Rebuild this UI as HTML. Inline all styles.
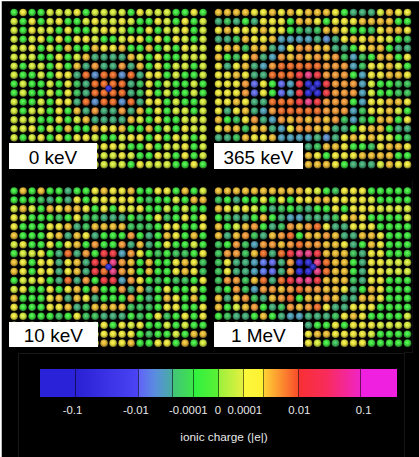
<!DOCTYPE html>
<html><head><meta charset="utf-8"><style>
html,body{margin:0;padding:0;width:419px;height:457px;overflow:hidden;background:#fff}
#bg{position:absolute;left:2px;top:1px;width:417px;height:456px;background:#000}
#edge{position:absolute;left:1px;top:1px;width:1px;height:456px;background:#bdbdbd}
#edge2{position:absolute;left:2px;top:1px;width:417px;height:1px;background:#3a3a3a}
.box{position:absolute;background:#fff}
.lab{position:absolute;color:#000;font-family:"Liberation Sans",sans-serif;font-size:19px;line-height:19px;height:19px;text-align:center;white-space:nowrap}
.tick{position:absolute;top:403.7px;width:60px;text-align:center;color:#e8e8e8;font-family:"Liberation Sans",sans-serif;font-size:11.35px}
.axl{position:absolute;left:150px;width:148px;top:430px;text-align:center;color:#e8e8e8;font-family:"Liberation Sans",sans-serif;font-size:11.8px}
#cbf{position:absolute;left:18px;top:353px;width:385px;height:110px;border-left:1px solid #181818;border-top:1px solid #181818;border-right:1px solid #141414}
#l1{position:absolute;left:404px;top:352px;width:9px;height:1px;background:#141414}
#l2{position:absolute;left:412px;top:180px;width:1px;height:172px;background:#0e0e0e}
</style></head><body>
<div id="bg"></div><div id="edge"></div><div id="edge2"></div>
<div id="cbf"></div><div id="l1"></div><div id="l2"></div>
<svg width="419" height="457" viewBox="0 0 419 457" style="position:absolute;left:0;top:0"><defs><radialGradient id="gG" cx="0.47" cy="0.45" r="0.55" fx="0.45" fy="0.4"><stop offset="0" stop-color="#60ff60"/><stop offset="0.55" stop-color="#3ed83e"/><stop offset="1" stop-color="#227722"/></radialGradient><radialGradient id="gL" cx="0.47" cy="0.45" r="0.55" fx="0.45" fy="0.4"><stop offset="0" stop-color="#f2ff60"/><stop offset="0.55" stop-color="#c8de3e"/><stop offset="1" stop-color="#6e7a22"/></radialGradient><radialGradient id="gY" cx="0.47" cy="0.45" r="0.55" fx="0.45" fy="0.4"><stop offset="0" stop-color="#ffff5e"/><stop offset="0.55" stop-color="#e0d83c"/><stop offset="1" stop-color="#7b7721"/></radialGradient><radialGradient id="gO" cx="0.47" cy="0.45" r="0.55" fx="0.45" fy="0.4"><stop offset="0" stop-color="#ffdb58"/><stop offset="0.55" stop-color="#deb236"/><stop offset="1" stop-color="#7a621e"/></radialGradient><radialGradient id="gT" cx="0.47" cy="0.45" r="0.55" fx="0.45" fy="0.4"><stop offset="0" stop-color="#64ca97"/><stop offset="0.55" stop-color="#42a272"/><stop offset="1" stop-color="#24593f"/></radialGradient><radialGradient id="gU" cx="0.47" cy="0.45" r="0.55" fx="0.45" fy="0.4"><stop offset="0" stop-color="#5edd79"/><stop offset="0.55" stop-color="#3cb456"/><stop offset="1" stop-color="#21632f"/></radialGradient><radialGradient id="gP" cx="0.47" cy="0.45" r="0.55" fx="0.45" fy="0.4"><stop offset="0" stop-color="#ffb95c"/><stop offset="0.55" stop-color="#e4923a"/><stop offset="1" stop-color="#7d5020"/></radialGradient><radialGradient id="gR" cx="0.47" cy="0.45" r="0.55" fx="0.45" fy="0.4"><stop offset="0" stop-color="#ff8f4d"/><stop offset="0.55" stop-color="#e06a2c"/><stop offset="1" stop-color="#7b3a18"/></radialGradient><radialGradient id="gQ" cx="0.47" cy="0.45" r="0.55" fx="0.45" fy="0.4"><stop offset="0" stop-color="#ff5e64"/><stop offset="0.55" stop-color="#e03c42"/><stop offset="1" stop-color="#7b2124"/></radialGradient><radialGradient id="gM" cx="0.47" cy="0.45" r="0.55" fx="0.45" fy="0.4"><stop offset="0" stop-color="#ff62a4"/><stop offset="0.55" stop-color="#d8407e"/><stop offset="1" stop-color="#772345"/></radialGradient><radialGradient id="gB" cx="0.47" cy="0.45" r="0.55" fx="0.45" fy="0.4"><stop offset="0" stop-color="#7cace5"/><stop offset="0.55" stop-color="#5886bc"/><stop offset="1" stop-color="#304a67"/></radialGradient><radialGradient id="gV" cx="0.47" cy="0.45" r="0.55" fx="0.45" fy="0.4"><stop offset="0" stop-color="#808aff"/><stop offset="0.55" stop-color="#5c66d8"/><stop offset="1" stop-color="#333877"/></radialGradient><radialGradient id="gD" cx="0.47" cy="0.45" r="0.55" fx="0.45" fy="0.4"><stop offset="0" stop-color="#4f4fee"/><stop offset="0.55" stop-color="#2e2ec4"/><stop offset="1" stop-color="#19196c"/></radialGradient><radialGradient id="gC" cx="0.47" cy="0.45" r="0.55" fx="0.45" fy="0.4"><stop offset="0" stop-color="#6fbdd4"/><stop offset="0.55" stop-color="#4c96ac"/><stop offset="1" stop-color="#2a525f"/></radialGradient><radialGradient id="gW" cx="0.47" cy="0.45" r="0.55" fx="0.45" fy="0.4"><stop offset="0" stop-color="#8097ff"/><stop offset="0.55" stop-color="#5c72dc"/><stop offset="1" stop-color="#333f79"/></radialGradient><radialGradient id="gE" cx="0.47" cy="0.45" r="0.55" fx="0.45" fy="0.4"><stop offset="0" stop-color="#4b4be1"/><stop offset="0.55" stop-color="#2a2ab8"/><stop offset="1" stop-color="#171765"/></radialGradient><radialGradient id="gK" cx="0.47" cy="0.45" r="0.55" fx="0.45" fy="0.4"><stop offset="0" stop-color="#1f1f1f"/><stop offset="0.55" stop-color="#000000"/><stop offset="1" stop-color="#000000"/></radialGradient></defs><circle cx="14.10" cy="12.50" r="3.8" fill="url(#gG)"/><circle cx="23.10" cy="12.50" r="3.8" fill="url(#gY)"/><circle cx="32.10" cy="12.50" r="3.8" fill="url(#gG)"/><circle cx="41.10" cy="12.50" r="3.8" fill="url(#gG)"/><circle cx="50.10" cy="12.50" r="3.8" fill="url(#gL)"/><circle cx="59.10" cy="12.50" r="3.8" fill="url(#gL)"/><circle cx="68.10" cy="12.50" r="3.8" fill="url(#gL)"/><circle cx="77.10" cy="12.50" r="3.8" fill="url(#gY)"/><circle cx="86.10" cy="12.50" r="3.8" fill="url(#gG)"/><circle cx="95.10" cy="12.50" r="3.8" fill="url(#gL)"/><circle cx="104.10" cy="12.50" r="3.8" fill="url(#gL)"/><circle cx="113.10" cy="12.50" r="3.8" fill="url(#gL)"/><circle cx="122.10" cy="12.50" r="3.8" fill="url(#gL)"/><circle cx="131.10" cy="12.50" r="3.8" fill="url(#gG)"/><circle cx="140.10" cy="12.50" r="3.8" fill="url(#gY)"/><circle cx="149.10" cy="12.50" r="3.8" fill="url(#gL)"/><circle cx="158.10" cy="12.50" r="3.8" fill="url(#gL)"/><circle cx="167.10" cy="12.50" r="3.8" fill="url(#gL)"/><circle cx="176.10" cy="12.50" r="3.8" fill="url(#gG)"/><circle cx="185.10" cy="12.50" r="3.8" fill="url(#gG)"/><circle cx="194.10" cy="12.50" r="3.8" fill="url(#gY)"/><circle cx="203.10" cy="12.50" r="3.8" fill="url(#gG)"/><circle cx="14.10" cy="21.45" r="3.8" fill="url(#gL)"/><circle cx="23.10" cy="21.45" r="3.8" fill="url(#gG)"/><circle cx="32.10" cy="21.45" r="3.8" fill="url(#gY)"/><circle cx="41.10" cy="21.45" r="3.8" fill="url(#gG)"/><circle cx="50.10" cy="21.45" r="3.8" fill="url(#gL)"/><circle cx="59.10" cy="21.45" r="3.8" fill="url(#gY)"/><circle cx="68.10" cy="21.45" r="3.8" fill="url(#gG)"/><circle cx="77.10" cy="21.45" r="3.8" fill="url(#gG)"/><circle cx="86.10" cy="21.45" r="3.8" fill="url(#gL)"/><circle cx="95.10" cy="21.45" r="3.8" fill="url(#gY)"/><circle cx="104.10" cy="21.45" r="3.8" fill="url(#gL)"/><circle cx="113.10" cy="21.45" r="3.8" fill="url(#gL)"/><circle cx="122.10" cy="21.45" r="3.8" fill="url(#gY)"/><circle cx="131.10" cy="21.45" r="3.8" fill="url(#gL)"/><circle cx="140.10" cy="21.45" r="3.8" fill="url(#gG)"/><circle cx="149.10" cy="21.45" r="3.8" fill="url(#gG)"/><circle cx="158.10" cy="21.45" r="3.8" fill="url(#gY)"/><circle cx="167.10" cy="21.45" r="3.8" fill="url(#gL)"/><circle cx="176.10" cy="21.45" r="3.8" fill="url(#gG)"/><circle cx="185.10" cy="21.45" r="3.8" fill="url(#gY)"/><circle cx="194.10" cy="21.45" r="3.8" fill="url(#gG)"/><circle cx="203.10" cy="21.45" r="3.8" fill="url(#gL)"/><circle cx="14.10" cy="30.40" r="3.8" fill="url(#gL)"/><circle cx="23.10" cy="30.40" r="3.8" fill="url(#gG)"/><circle cx="32.10" cy="30.40" r="3.8" fill="url(#gY)"/><circle cx="41.10" cy="30.40" r="3.8" fill="url(#gL)"/><circle cx="50.10" cy="30.40" r="3.8" fill="url(#gL)"/><circle cx="59.10" cy="30.40" r="3.8" fill="url(#gG)"/><circle cx="68.10" cy="30.40" r="3.8" fill="url(#gY)"/><circle cx="77.10" cy="30.40" r="3.8" fill="url(#gG)"/><circle cx="86.10" cy="30.40" r="3.8" fill="url(#gG)"/><circle cx="95.10" cy="30.40" r="3.8" fill="url(#gL)"/><circle cx="104.10" cy="30.40" r="3.8" fill="url(#gY)"/><circle cx="113.10" cy="30.40" r="3.8" fill="url(#gY)"/><circle cx="122.10" cy="30.40" r="3.8" fill="url(#gL)"/><circle cx="131.10" cy="30.40" r="3.8" fill="url(#gG)"/><circle cx="140.10" cy="30.40" r="3.8" fill="url(#gG)"/><circle cx="149.10" cy="30.40" r="3.8" fill="url(#gY)"/><circle cx="158.10" cy="30.40" r="3.8" fill="url(#gG)"/><circle cx="167.10" cy="30.40" r="3.8" fill="url(#gL)"/><circle cx="176.10" cy="30.40" r="3.8" fill="url(#gL)"/><circle cx="185.10" cy="30.40" r="3.8" fill="url(#gY)"/><circle cx="194.10" cy="30.40" r="3.8" fill="url(#gG)"/><circle cx="203.10" cy="30.40" r="3.8" fill="url(#gL)"/><circle cx="14.10" cy="39.35" r="3.8" fill="url(#gL)"/><circle cx="23.10" cy="39.35" r="3.8" fill="url(#gG)"/><circle cx="32.10" cy="39.35" r="3.8" fill="url(#gL)"/><circle cx="41.10" cy="39.35" r="3.8" fill="url(#gY)"/><circle cx="50.10" cy="39.35" r="3.8" fill="url(#gG)"/><circle cx="59.10" cy="39.35" r="3.8" fill="url(#gY)"/><circle cx="68.10" cy="39.35" r="3.8" fill="url(#gG)"/><circle cx="77.10" cy="39.35" r="3.8" fill="url(#gY)"/><circle cx="86.10" cy="39.35" r="3.8" fill="url(#gY)"/><circle cx="95.10" cy="39.35" r="3.8" fill="url(#gL)"/><circle cx="104.10" cy="39.35" r="3.8" fill="url(#gG)"/><circle cx="113.10" cy="39.35" r="3.8" fill="url(#gG)"/><circle cx="122.10" cy="39.35" r="3.8" fill="url(#gL)"/><circle cx="131.10" cy="39.35" r="3.8" fill="url(#gY)"/><circle cx="140.10" cy="39.35" r="3.8" fill="url(#gY)"/><circle cx="149.10" cy="39.35" r="3.8" fill="url(#gG)"/><circle cx="158.10" cy="39.35" r="3.8" fill="url(#gY)"/><circle cx="167.10" cy="39.35" r="3.8" fill="url(#gG)"/><circle cx="176.10" cy="39.35" r="3.8" fill="url(#gY)"/><circle cx="185.10" cy="39.35" r="3.8" fill="url(#gL)"/><circle cx="194.10" cy="39.35" r="3.8" fill="url(#gG)"/><circle cx="203.10" cy="39.35" r="3.8" fill="url(#gL)"/><circle cx="14.10" cy="48.30" r="3.8" fill="url(#gL)"/><circle cx="23.10" cy="48.30" r="3.8" fill="url(#gL)"/><circle cx="32.10" cy="48.30" r="3.8" fill="url(#gY)"/><circle cx="41.10" cy="48.30" r="3.8" fill="url(#gG)"/><circle cx="50.10" cy="48.30" r="3.8" fill="url(#gL)"/><circle cx="59.10" cy="48.30" r="3.8" fill="url(#gG)"/><circle cx="68.10" cy="48.30" r="3.8" fill="url(#gO)"/><circle cx="77.10" cy="48.30" r="3.8" fill="url(#gG)"/><circle cx="86.10" cy="48.30" r="3.8" fill="url(#gG)"/><circle cx="95.10" cy="48.30" r="3.8" fill="url(#gO)"/><circle cx="104.10" cy="48.30" r="3.8" fill="url(#gY)"/><circle cx="113.10" cy="48.30" r="3.8" fill="url(#gY)"/><circle cx="122.10" cy="48.30" r="3.8" fill="url(#gO)"/><circle cx="131.10" cy="48.30" r="3.8" fill="url(#gG)"/><circle cx="140.10" cy="48.30" r="3.8" fill="url(#gG)"/><circle cx="149.10" cy="48.30" r="3.8" fill="url(#gO)"/><circle cx="158.10" cy="48.30" r="3.8" fill="url(#gG)"/><circle cx="167.10" cy="48.30" r="3.8" fill="url(#gL)"/><circle cx="176.10" cy="48.30" r="3.8" fill="url(#gG)"/><circle cx="185.10" cy="48.30" r="3.8" fill="url(#gY)"/><circle cx="194.10" cy="48.30" r="3.8" fill="url(#gL)"/><circle cx="203.10" cy="48.30" r="3.8" fill="url(#gL)"/><circle cx="14.10" cy="57.25" r="3.8" fill="url(#gL)"/><circle cx="23.10" cy="57.25" r="3.8" fill="url(#gL)"/><circle cx="32.10" cy="57.25" r="3.8" fill="url(#gL)"/><circle cx="41.10" cy="57.25" r="3.8" fill="url(#gG)"/><circle cx="50.10" cy="57.25" r="3.8" fill="url(#gG)"/><circle cx="59.10" cy="57.25" r="3.8" fill="url(#gY)"/><circle cx="68.10" cy="57.25" r="3.8" fill="url(#gG)"/><circle cx="77.10" cy="57.25" r="3.8" fill="url(#gL)"/><circle cx="86.10" cy="57.25" r="3.8" fill="url(#gO)"/><circle cx="95.10" cy="57.25" r="3.8" fill="url(#gT)"/><circle cx="104.10" cy="57.25" r="3.8" fill="url(#gT)"/><circle cx="113.10" cy="57.25" r="3.8" fill="url(#gT)"/><circle cx="122.10" cy="57.25" r="3.8" fill="url(#gT)"/><circle cx="131.10" cy="57.25" r="3.8" fill="url(#gO)"/><circle cx="140.10" cy="57.25" r="3.8" fill="url(#gL)"/><circle cx="149.10" cy="57.25" r="3.8" fill="url(#gG)"/><circle cx="158.10" cy="57.25" r="3.8" fill="url(#gY)"/><circle cx="167.10" cy="57.25" r="3.8" fill="url(#gG)"/><circle cx="176.10" cy="57.25" r="3.8" fill="url(#gG)"/><circle cx="185.10" cy="57.25" r="3.8" fill="url(#gL)"/><circle cx="194.10" cy="57.25" r="3.8" fill="url(#gL)"/><circle cx="203.10" cy="57.25" r="3.8" fill="url(#gL)"/><circle cx="14.10" cy="66.20" r="3.8" fill="url(#gL)"/><circle cx="23.10" cy="66.20" r="3.8" fill="url(#gG)"/><circle cx="32.10" cy="66.20" r="3.8" fill="url(#gL)"/><circle cx="41.10" cy="66.20" r="3.8" fill="url(#gL)"/><circle cx="50.10" cy="66.20" r="3.8" fill="url(#gG)"/><circle cx="59.10" cy="66.20" r="3.8" fill="url(#gY)"/><circle cx="68.10" cy="66.20" r="3.8" fill="url(#gG)"/><circle cx="77.10" cy="66.20" r="3.8" fill="url(#gO)"/><circle cx="86.10" cy="66.20" r="3.8" fill="url(#gT)"/><circle cx="95.10" cy="66.20" r="3.8" fill="url(#gP)"/><circle cx="104.10" cy="66.20" r="3.8" fill="url(#gT)"/><circle cx="113.10" cy="66.20" r="3.8" fill="url(#gT)"/><circle cx="122.10" cy="66.20" r="3.8" fill="url(#gP)"/><circle cx="131.10" cy="66.20" r="3.8" fill="url(#gT)"/><circle cx="140.10" cy="66.20" r="3.8" fill="url(#gO)"/><circle cx="149.10" cy="66.20" r="3.8" fill="url(#gG)"/><circle cx="158.10" cy="66.20" r="3.8" fill="url(#gY)"/><circle cx="167.10" cy="66.20" r="3.8" fill="url(#gG)"/><circle cx="176.10" cy="66.20" r="3.8" fill="url(#gL)"/><circle cx="185.10" cy="66.20" r="3.8" fill="url(#gL)"/><circle cx="194.10" cy="66.20" r="3.8" fill="url(#gG)"/><circle cx="203.10" cy="66.20" r="3.8" fill="url(#gL)"/><circle cx="14.10" cy="75.15" r="3.8" fill="url(#gL)"/><circle cx="23.10" cy="75.15" r="3.8" fill="url(#gG)"/><circle cx="32.10" cy="75.15" r="3.8" fill="url(#gG)"/><circle cx="41.10" cy="75.15" r="3.8" fill="url(#gL)"/><circle cx="50.10" cy="75.15" r="3.8" fill="url(#gG)"/><circle cx="59.10" cy="75.15" r="3.8" fill="url(#gY)"/><circle cx="68.10" cy="75.15" r="3.8" fill="url(#gY)"/><circle cx="77.10" cy="75.15" r="3.8" fill="url(#gT)"/><circle cx="86.10" cy="75.15" r="3.8" fill="url(#gR)"/><circle cx="95.10" cy="75.15" r="3.8" fill="url(#gB)"/><circle cx="104.10" cy="75.15" r="3.8" fill="url(#gR)"/><circle cx="113.10" cy="75.15" r="3.8" fill="url(#gR)"/><circle cx="122.10" cy="75.15" r="3.8" fill="url(#gB)"/><circle cx="131.10" cy="75.15" r="3.8" fill="url(#gR)"/><circle cx="140.10" cy="75.15" r="3.8" fill="url(#gT)"/><circle cx="149.10" cy="75.15" r="3.8" fill="url(#gY)"/><circle cx="158.10" cy="75.15" r="3.8" fill="url(#gY)"/><circle cx="167.10" cy="75.15" r="3.8" fill="url(#gG)"/><circle cx="176.10" cy="75.15" r="3.8" fill="url(#gL)"/><circle cx="185.10" cy="75.15" r="3.8" fill="url(#gG)"/><circle cx="194.10" cy="75.15" r="3.8" fill="url(#gG)"/><circle cx="203.10" cy="75.15" r="3.8" fill="url(#gL)"/><circle cx="14.10" cy="84.10" r="3.8" fill="url(#gG)"/><circle cx="23.10" cy="84.10" r="3.8" fill="url(#gL)"/><circle cx="32.10" cy="84.10" r="3.8" fill="url(#gG)"/><circle cx="41.10" cy="84.10" r="3.8" fill="url(#gG)"/><circle cx="50.10" cy="84.10" r="3.8" fill="url(#gL)"/><circle cx="59.10" cy="84.10" r="3.8" fill="url(#gG)"/><circle cx="68.10" cy="84.10" r="3.8" fill="url(#gY)"/><circle cx="77.10" cy="84.10" r="3.8" fill="url(#gU)"/><circle cx="86.10" cy="84.10" r="3.8" fill="url(#gT)"/><circle cx="95.10" cy="84.10" r="3.8" fill="url(#gR)"/><circle cx="104.10" cy="84.10" r="3.8" fill="url(#gR)"/><circle cx="113.10" cy="84.10" r="3.8" fill="url(#gR)"/><circle cx="122.10" cy="84.10" r="3.8" fill="url(#gR)"/><circle cx="131.10" cy="84.10" r="3.8" fill="url(#gT)"/><circle cx="140.10" cy="84.10" r="3.8" fill="url(#gU)"/><circle cx="149.10" cy="84.10" r="3.8" fill="url(#gY)"/><circle cx="158.10" cy="84.10" r="3.8" fill="url(#gG)"/><circle cx="167.10" cy="84.10" r="3.8" fill="url(#gL)"/><circle cx="176.10" cy="84.10" r="3.8" fill="url(#gG)"/><circle cx="185.10" cy="84.10" r="3.8" fill="url(#gG)"/><circle cx="194.10" cy="84.10" r="3.8" fill="url(#gL)"/><circle cx="203.10" cy="84.10" r="3.8" fill="url(#gG)"/><circle cx="14.10" cy="93.05" r="3.8" fill="url(#gG)"/><circle cx="23.10" cy="93.05" r="3.8" fill="url(#gL)"/><circle cx="32.10" cy="93.05" r="3.8" fill="url(#gG)"/><circle cx="41.10" cy="93.05" r="3.8" fill="url(#gG)"/><circle cx="50.10" cy="93.05" r="3.8" fill="url(#gL)"/><circle cx="59.10" cy="93.05" r="3.8" fill="url(#gG)"/><circle cx="68.10" cy="93.05" r="3.8" fill="url(#gY)"/><circle cx="77.10" cy="93.05" r="3.8" fill="url(#gU)"/><circle cx="86.10" cy="93.05" r="3.8" fill="url(#gT)"/><circle cx="95.10" cy="93.05" r="3.8" fill="url(#gR)"/><circle cx="104.10" cy="93.05" r="3.8" fill="url(#gR)"/><circle cx="113.10" cy="93.05" r="3.8" fill="url(#gR)"/><circle cx="122.10" cy="93.05" r="3.8" fill="url(#gR)"/><circle cx="131.10" cy="93.05" r="3.8" fill="url(#gT)"/><circle cx="140.10" cy="93.05" r="3.8" fill="url(#gU)"/><circle cx="149.10" cy="93.05" r="3.8" fill="url(#gY)"/><circle cx="158.10" cy="93.05" r="3.8" fill="url(#gG)"/><circle cx="167.10" cy="93.05" r="3.8" fill="url(#gL)"/><circle cx="176.10" cy="93.05" r="3.8" fill="url(#gG)"/><circle cx="185.10" cy="93.05" r="3.8" fill="url(#gG)"/><circle cx="194.10" cy="93.05" r="3.8" fill="url(#gL)"/><circle cx="203.10" cy="93.05" r="3.8" fill="url(#gG)"/><circle cx="14.10" cy="102.00" r="3.8" fill="url(#gL)"/><circle cx="23.10" cy="102.00" r="3.8" fill="url(#gG)"/><circle cx="32.10" cy="102.00" r="3.8" fill="url(#gG)"/><circle cx="41.10" cy="102.00" r="3.8" fill="url(#gL)"/><circle cx="50.10" cy="102.00" r="3.8" fill="url(#gG)"/><circle cx="59.10" cy="102.00" r="3.8" fill="url(#gY)"/><circle cx="68.10" cy="102.00" r="3.8" fill="url(#gY)"/><circle cx="77.10" cy="102.00" r="3.8" fill="url(#gT)"/><circle cx="86.10" cy="102.00" r="3.8" fill="url(#gR)"/><circle cx="95.10" cy="102.00" r="3.8" fill="url(#gB)"/><circle cx="104.10" cy="102.00" r="3.8" fill="url(#gR)"/><circle cx="113.10" cy="102.00" r="3.8" fill="url(#gR)"/><circle cx="122.10" cy="102.00" r="3.8" fill="url(#gB)"/><circle cx="131.10" cy="102.00" r="3.8" fill="url(#gR)"/><circle cx="140.10" cy="102.00" r="3.8" fill="url(#gT)"/><circle cx="149.10" cy="102.00" r="3.8" fill="url(#gY)"/><circle cx="158.10" cy="102.00" r="3.8" fill="url(#gY)"/><circle cx="167.10" cy="102.00" r="3.8" fill="url(#gG)"/><circle cx="176.10" cy="102.00" r="3.8" fill="url(#gL)"/><circle cx="185.10" cy="102.00" r="3.8" fill="url(#gG)"/><circle cx="194.10" cy="102.00" r="3.8" fill="url(#gG)"/><circle cx="203.10" cy="102.00" r="3.8" fill="url(#gL)"/><circle cx="14.10" cy="110.95" r="3.8" fill="url(#gL)"/><circle cx="23.10" cy="110.95" r="3.8" fill="url(#gG)"/><circle cx="32.10" cy="110.95" r="3.8" fill="url(#gL)"/><circle cx="41.10" cy="110.95" r="3.8" fill="url(#gL)"/><circle cx="50.10" cy="110.95" r="3.8" fill="url(#gG)"/><circle cx="59.10" cy="110.95" r="3.8" fill="url(#gY)"/><circle cx="68.10" cy="110.95" r="3.8" fill="url(#gG)"/><circle cx="77.10" cy="110.95" r="3.8" fill="url(#gO)"/><circle cx="86.10" cy="110.95" r="3.8" fill="url(#gT)"/><circle cx="95.10" cy="110.95" r="3.8" fill="url(#gP)"/><circle cx="104.10" cy="110.95" r="3.8" fill="url(#gT)"/><circle cx="113.10" cy="110.95" r="3.8" fill="url(#gT)"/><circle cx="122.10" cy="110.95" r="3.8" fill="url(#gP)"/><circle cx="131.10" cy="110.95" r="3.8" fill="url(#gT)"/><circle cx="140.10" cy="110.95" r="3.8" fill="url(#gO)"/><circle cx="149.10" cy="110.95" r="3.8" fill="url(#gG)"/><circle cx="158.10" cy="110.95" r="3.8" fill="url(#gY)"/><circle cx="167.10" cy="110.95" r="3.8" fill="url(#gG)"/><circle cx="176.10" cy="110.95" r="3.8" fill="url(#gL)"/><circle cx="185.10" cy="110.95" r="3.8" fill="url(#gL)"/><circle cx="194.10" cy="110.95" r="3.8" fill="url(#gG)"/><circle cx="203.10" cy="110.95" r="3.8" fill="url(#gL)"/><circle cx="14.10" cy="119.90" r="3.8" fill="url(#gL)"/><circle cx="23.10" cy="119.90" r="3.8" fill="url(#gL)"/><circle cx="32.10" cy="119.90" r="3.8" fill="url(#gL)"/><circle cx="41.10" cy="119.90" r="3.8" fill="url(#gG)"/><circle cx="50.10" cy="119.90" r="3.8" fill="url(#gG)"/><circle cx="59.10" cy="119.90" r="3.8" fill="url(#gY)"/><circle cx="68.10" cy="119.90" r="3.8" fill="url(#gG)"/><circle cx="77.10" cy="119.90" r="3.8" fill="url(#gL)"/><circle cx="86.10" cy="119.90" r="3.8" fill="url(#gO)"/><circle cx="95.10" cy="119.90" r="3.8" fill="url(#gT)"/><circle cx="104.10" cy="119.90" r="3.8" fill="url(#gT)"/><circle cx="113.10" cy="119.90" r="3.8" fill="url(#gT)"/><circle cx="122.10" cy="119.90" r="3.8" fill="url(#gT)"/><circle cx="131.10" cy="119.90" r="3.8" fill="url(#gO)"/><circle cx="140.10" cy="119.90" r="3.8" fill="url(#gL)"/><circle cx="149.10" cy="119.90" r="3.8" fill="url(#gG)"/><circle cx="158.10" cy="119.90" r="3.8" fill="url(#gY)"/><circle cx="167.10" cy="119.90" r="3.8" fill="url(#gG)"/><circle cx="176.10" cy="119.90" r="3.8" fill="url(#gG)"/><circle cx="185.10" cy="119.90" r="3.8" fill="url(#gL)"/><circle cx="194.10" cy="119.90" r="3.8" fill="url(#gL)"/><circle cx="203.10" cy="119.90" r="3.8" fill="url(#gL)"/><circle cx="14.10" cy="128.85" r="3.8" fill="url(#gL)"/><circle cx="23.10" cy="128.85" r="3.8" fill="url(#gL)"/><circle cx="32.10" cy="128.85" r="3.8" fill="url(#gY)"/><circle cx="41.10" cy="128.85" r="3.8" fill="url(#gG)"/><circle cx="50.10" cy="128.85" r="3.8" fill="url(#gL)"/><circle cx="59.10" cy="128.85" r="3.8" fill="url(#gG)"/><circle cx="68.10" cy="128.85" r="3.8" fill="url(#gO)"/><circle cx="77.10" cy="128.85" r="3.8" fill="url(#gG)"/><circle cx="86.10" cy="128.85" r="3.8" fill="url(#gG)"/><circle cx="95.10" cy="128.85" r="3.8" fill="url(#gO)"/><circle cx="104.10" cy="128.85" r="3.8" fill="url(#gY)"/><circle cx="113.10" cy="128.85" r="3.8" fill="url(#gY)"/><circle cx="122.10" cy="128.85" r="3.8" fill="url(#gO)"/><circle cx="131.10" cy="128.85" r="3.8" fill="url(#gG)"/><circle cx="140.10" cy="128.85" r="3.8" fill="url(#gG)"/><circle cx="149.10" cy="128.85" r="3.8" fill="url(#gO)"/><circle cx="158.10" cy="128.85" r="3.8" fill="url(#gG)"/><circle cx="167.10" cy="128.85" r="3.8" fill="url(#gL)"/><circle cx="176.10" cy="128.85" r="3.8" fill="url(#gG)"/><circle cx="185.10" cy="128.85" r="3.8" fill="url(#gY)"/><circle cx="194.10" cy="128.85" r="3.8" fill="url(#gL)"/><circle cx="203.10" cy="128.85" r="3.8" fill="url(#gL)"/><circle cx="14.10" cy="137.80" r="3.8" fill="url(#gL)"/><circle cx="23.10" cy="137.80" r="3.8" fill="url(#gG)"/><circle cx="32.10" cy="137.80" r="3.8" fill="url(#gL)"/><circle cx="41.10" cy="137.80" r="3.8" fill="url(#gY)"/><circle cx="50.10" cy="137.80" r="3.8" fill="url(#gG)"/><circle cx="59.10" cy="137.80" r="3.8" fill="url(#gY)"/><circle cx="68.10" cy="137.80" r="3.8" fill="url(#gG)"/><circle cx="77.10" cy="137.80" r="3.8" fill="url(#gY)"/><circle cx="86.10" cy="137.80" r="3.8" fill="url(#gY)"/><circle cx="95.10" cy="137.80" r="3.8" fill="url(#gL)"/><circle cx="104.10" cy="137.80" r="3.8" fill="url(#gG)"/><circle cx="113.10" cy="137.80" r="3.8" fill="url(#gG)"/><circle cx="122.10" cy="137.80" r="3.8" fill="url(#gL)"/><circle cx="131.10" cy="137.80" r="3.8" fill="url(#gY)"/><circle cx="140.10" cy="137.80" r="3.8" fill="url(#gY)"/><circle cx="149.10" cy="137.80" r="3.8" fill="url(#gG)"/><circle cx="158.10" cy="137.80" r="3.8" fill="url(#gY)"/><circle cx="167.10" cy="137.80" r="3.8" fill="url(#gG)"/><circle cx="176.10" cy="137.80" r="3.8" fill="url(#gY)"/><circle cx="185.10" cy="137.80" r="3.8" fill="url(#gL)"/><circle cx="194.10" cy="137.80" r="3.8" fill="url(#gG)"/><circle cx="203.10" cy="137.80" r="3.8" fill="url(#gL)"/><circle cx="14.10" cy="146.75" r="3.8" fill="url(#gL)"/><circle cx="23.10" cy="146.75" r="3.8" fill="url(#gG)"/><circle cx="32.10" cy="146.75" r="3.8" fill="url(#gY)"/><circle cx="41.10" cy="146.75" r="3.8" fill="url(#gL)"/><circle cx="50.10" cy="146.75" r="3.8" fill="url(#gL)"/><circle cx="59.10" cy="146.75" r="3.8" fill="url(#gG)"/><circle cx="68.10" cy="146.75" r="3.8" fill="url(#gY)"/><circle cx="77.10" cy="146.75" r="3.8" fill="url(#gG)"/><circle cx="86.10" cy="146.75" r="3.8" fill="url(#gG)"/><circle cx="95.10" cy="146.75" r="3.8" fill="url(#gL)"/><circle cx="104.10" cy="146.75" r="3.8" fill="url(#gY)"/><circle cx="113.10" cy="146.75" r="3.8" fill="url(#gY)"/><circle cx="122.10" cy="146.75" r="3.8" fill="url(#gL)"/><circle cx="131.10" cy="146.75" r="3.8" fill="url(#gG)"/><circle cx="140.10" cy="146.75" r="3.8" fill="url(#gG)"/><circle cx="149.10" cy="146.75" r="3.8" fill="url(#gY)"/><circle cx="158.10" cy="146.75" r="3.8" fill="url(#gG)"/><circle cx="167.10" cy="146.75" r="3.8" fill="url(#gL)"/><circle cx="176.10" cy="146.75" r="3.8" fill="url(#gL)"/><circle cx="185.10" cy="146.75" r="3.8" fill="url(#gY)"/><circle cx="194.10" cy="146.75" r="3.8" fill="url(#gG)"/><circle cx="203.10" cy="146.75" r="3.8" fill="url(#gL)"/><circle cx="14.10" cy="155.70" r="3.8" fill="url(#gL)"/><circle cx="23.10" cy="155.70" r="3.8" fill="url(#gG)"/><circle cx="32.10" cy="155.70" r="3.8" fill="url(#gY)"/><circle cx="41.10" cy="155.70" r="3.8" fill="url(#gG)"/><circle cx="50.10" cy="155.70" r="3.8" fill="url(#gL)"/><circle cx="59.10" cy="155.70" r="3.8" fill="url(#gY)"/><circle cx="68.10" cy="155.70" r="3.8" fill="url(#gG)"/><circle cx="77.10" cy="155.70" r="3.8" fill="url(#gG)"/><circle cx="86.10" cy="155.70" r="3.8" fill="url(#gL)"/><circle cx="95.10" cy="155.70" r="3.8" fill="url(#gY)"/><circle cx="104.10" cy="155.70" r="3.8" fill="url(#gL)"/><circle cx="113.10" cy="155.70" r="3.8" fill="url(#gL)"/><circle cx="122.10" cy="155.70" r="3.8" fill="url(#gY)"/><circle cx="131.10" cy="155.70" r="3.8" fill="url(#gL)"/><circle cx="140.10" cy="155.70" r="3.8" fill="url(#gG)"/><circle cx="149.10" cy="155.70" r="3.8" fill="url(#gG)"/><circle cx="158.10" cy="155.70" r="3.8" fill="url(#gY)"/><circle cx="167.10" cy="155.70" r="3.8" fill="url(#gL)"/><circle cx="176.10" cy="155.70" r="3.8" fill="url(#gG)"/><circle cx="185.10" cy="155.70" r="3.8" fill="url(#gY)"/><circle cx="194.10" cy="155.70" r="3.8" fill="url(#gG)"/><circle cx="203.10" cy="155.70" r="3.8" fill="url(#gL)"/><circle cx="14.10" cy="164.65" r="3.8" fill="url(#gG)"/><circle cx="23.10" cy="164.65" r="3.8" fill="url(#gY)"/><circle cx="32.10" cy="164.65" r="3.8" fill="url(#gG)"/><circle cx="41.10" cy="164.65" r="3.8" fill="url(#gG)"/><circle cx="50.10" cy="164.65" r="3.8" fill="url(#gL)"/><circle cx="59.10" cy="164.65" r="3.8" fill="url(#gL)"/><circle cx="68.10" cy="164.65" r="3.8" fill="url(#gL)"/><circle cx="77.10" cy="164.65" r="3.8" fill="url(#gY)"/><circle cx="86.10" cy="164.65" r="3.8" fill="url(#gG)"/><circle cx="95.10" cy="164.65" r="3.8" fill="url(#gL)"/><circle cx="104.10" cy="164.65" r="3.8" fill="url(#gL)"/><circle cx="113.10" cy="164.65" r="3.8" fill="url(#gL)"/><circle cx="122.10" cy="164.65" r="3.8" fill="url(#gL)"/><circle cx="131.10" cy="164.65" r="3.8" fill="url(#gG)"/><circle cx="140.10" cy="164.65" r="3.8" fill="url(#gY)"/><circle cx="149.10" cy="164.65" r="3.8" fill="url(#gL)"/><circle cx="158.10" cy="164.65" r="3.8" fill="url(#gL)"/><circle cx="167.10" cy="164.65" r="3.8" fill="url(#gL)"/><circle cx="176.10" cy="164.65" r="3.8" fill="url(#gG)"/><circle cx="185.10" cy="164.65" r="3.8" fill="url(#gG)"/><circle cx="194.10" cy="164.65" r="3.8" fill="url(#gY)"/><circle cx="203.10" cy="164.65" r="3.8" fill="url(#gG)"/><circle cx="108.60" cy="88.57" r="3.4" fill="url(#gD)"/><circle cx="218.50" cy="12.50" r="3.8" fill="url(#gO)"/><circle cx="227.50" cy="12.50" r="3.8" fill="url(#gO)"/><circle cx="236.50" cy="12.50" r="3.8" fill="url(#gO)"/><circle cx="245.50" cy="12.50" r="3.8" fill="url(#gO)"/><circle cx="254.50" cy="12.50" r="3.8" fill="url(#gY)"/><circle cx="263.50" cy="12.50" r="3.8" fill="url(#gY)"/><circle cx="272.50" cy="12.50" r="3.8" fill="url(#gO)"/><circle cx="281.50" cy="12.50" r="3.8" fill="url(#gY)"/><circle cx="290.50" cy="12.50" r="3.8" fill="url(#gO)"/><circle cx="299.50" cy="12.50" r="3.8" fill="url(#gY)"/><circle cx="308.50" cy="12.50" r="3.8" fill="url(#gO)"/><circle cx="317.50" cy="12.50" r="3.8" fill="url(#gO)"/><circle cx="326.50" cy="12.50" r="3.8" fill="url(#gO)"/><circle cx="335.50" cy="12.50" r="3.8" fill="url(#gY)"/><circle cx="344.50" cy="12.50" r="3.8" fill="url(#gG)"/><circle cx="353.50" cy="12.50" r="3.8" fill="url(#gT)"/><circle cx="362.50" cy="12.50" r="3.8" fill="url(#gT)"/><circle cx="371.50" cy="12.50" r="3.8" fill="url(#gT)"/><circle cx="380.50" cy="12.50" r="3.8" fill="url(#gL)"/><circle cx="389.50" cy="12.50" r="3.8" fill="url(#gO)"/><circle cx="398.50" cy="12.50" r="3.8" fill="url(#gY)"/><circle cx="407.50" cy="12.50" r="3.8" fill="url(#gY)"/><circle cx="218.50" cy="21.45" r="3.8" fill="url(#gT)"/><circle cx="227.50" cy="21.45" r="3.8" fill="url(#gU)"/><circle cx="236.50" cy="21.45" r="3.8" fill="url(#gT)"/><circle cx="245.50" cy="21.45" r="3.8" fill="url(#gG)"/><circle cx="254.50" cy="21.45" r="3.8" fill="url(#gT)"/><circle cx="263.50" cy="21.45" r="3.8" fill="url(#gY)"/><circle cx="272.50" cy="21.45" r="3.8" fill="url(#gY)"/><circle cx="281.50" cy="21.45" r="3.8" fill="url(#gY)"/><circle cx="290.50" cy="21.45" r="3.8" fill="url(#gG)"/><circle cx="299.50" cy="21.45" r="3.8" fill="url(#gO)"/><circle cx="308.50" cy="21.45" r="3.8" fill="url(#gO)"/><circle cx="317.50" cy="21.45" r="3.8" fill="url(#gY)"/><circle cx="326.50" cy="21.45" r="3.8" fill="url(#gG)"/><circle cx="335.50" cy="21.45" r="3.8" fill="url(#gY)"/><circle cx="344.50" cy="21.45" r="3.8" fill="url(#gY)"/><circle cx="353.50" cy="21.45" r="3.8" fill="url(#gY)"/><circle cx="362.50" cy="21.45" r="3.8" fill="url(#gO)"/><circle cx="371.50" cy="21.45" r="3.8" fill="url(#gO)"/><circle cx="380.50" cy="21.45" r="3.8" fill="url(#gO)"/><circle cx="389.50" cy="21.45" r="3.8" fill="url(#gO)"/><circle cx="398.50" cy="21.45" r="3.8" fill="url(#gG)"/><circle cx="407.50" cy="21.45" r="3.8" fill="url(#gG)"/><circle cx="218.50" cy="30.40" r="3.8" fill="url(#gY)"/><circle cx="227.50" cy="30.40" r="3.8" fill="url(#gO)"/><circle cx="236.50" cy="30.40" r="3.8" fill="url(#gY)"/><circle cx="245.50" cy="30.40" r="3.8" fill="url(#gY)"/><circle cx="254.50" cy="30.40" r="3.8" fill="url(#gY)"/><circle cx="263.50" cy="30.40" r="3.8" fill="url(#gO)"/><circle cx="272.50" cy="30.40" r="3.8" fill="url(#gY)"/><circle cx="281.50" cy="30.40" r="3.8" fill="url(#gY)"/><circle cx="290.50" cy="30.40" r="3.8" fill="url(#gG)"/><circle cx="299.50" cy="30.40" r="3.8" fill="url(#gU)"/><circle cx="308.50" cy="30.40" r="3.8" fill="url(#gT)"/><circle cx="317.50" cy="30.40" r="3.8" fill="url(#gU)"/><circle cx="326.50" cy="30.40" r="3.8" fill="url(#gO)"/><circle cx="335.50" cy="30.40" r="3.8" fill="url(#gO)"/><circle cx="344.50" cy="30.40" r="3.8" fill="url(#gY)"/><circle cx="353.50" cy="30.40" r="3.8" fill="url(#gG)"/><circle cx="362.50" cy="30.40" r="3.8" fill="url(#gG)"/><circle cx="371.50" cy="30.40" r="3.8" fill="url(#gU)"/><circle cx="380.50" cy="30.40" r="3.8" fill="url(#gY)"/><circle cx="389.50" cy="30.40" r="3.8" fill="url(#gO)"/><circle cx="398.50" cy="30.40" r="3.8" fill="url(#gO)"/><circle cx="407.50" cy="30.40" r="3.8" fill="url(#gY)"/><circle cx="218.50" cy="39.35" r="3.8" fill="url(#gT)"/><circle cx="227.50" cy="39.35" r="3.8" fill="url(#gT)"/><circle cx="236.50" cy="39.35" r="3.8" fill="url(#gU)"/><circle cx="245.50" cy="39.35" r="3.8" fill="url(#gO)"/><circle cx="254.50" cy="39.35" r="3.8" fill="url(#gY)"/><circle cx="263.50" cy="39.35" r="3.8" fill="url(#gY)"/><circle cx="272.50" cy="39.35" r="3.8" fill="url(#gO)"/><circle cx="281.50" cy="39.35" r="3.8" fill="url(#gC)"/><circle cx="290.50" cy="39.35" r="3.8" fill="url(#gC)"/><circle cx="299.50" cy="39.35" r="3.8" fill="url(#gC)"/><circle cx="308.50" cy="39.35" r="3.8" fill="url(#gC)"/><circle cx="317.50" cy="39.35" r="3.8" fill="url(#gT)"/><circle cx="326.50" cy="39.35" r="3.8" fill="url(#gB)"/><circle cx="335.50" cy="39.35" r="3.8" fill="url(#gT)"/><circle cx="344.50" cy="39.35" r="3.8" fill="url(#gY)"/><circle cx="353.50" cy="39.35" r="3.8" fill="url(#gO)"/><circle cx="362.50" cy="39.35" r="3.8" fill="url(#gY)"/><circle cx="371.50" cy="39.35" r="3.8" fill="url(#gO)"/><circle cx="380.50" cy="39.35" r="3.8" fill="url(#gY)"/><circle cx="389.50" cy="39.35" r="3.8" fill="url(#gL)"/><circle cx="398.50" cy="39.35" r="3.8" fill="url(#gG)"/><circle cx="407.50" cy="39.35" r="3.8" fill="url(#gU)"/><circle cx="218.50" cy="48.30" r="3.8" fill="url(#gY)"/><circle cx="227.50" cy="48.30" r="3.8" fill="url(#gO)"/><circle cx="236.50" cy="48.30" r="3.8" fill="url(#gO)"/><circle cx="245.50" cy="48.30" r="3.8" fill="url(#gU)"/><circle cx="254.50" cy="48.30" r="3.8" fill="url(#gO)"/><circle cx="263.50" cy="48.30" r="3.8" fill="url(#gO)"/><circle cx="272.50" cy="48.30" r="3.8" fill="url(#gT)"/><circle cx="281.50" cy="48.30" r="3.8" fill="url(#gC)"/><circle cx="290.50" cy="48.30" r="3.8" fill="url(#gY)"/><circle cx="299.50" cy="48.30" r="3.8" fill="url(#gP)"/><circle cx="308.50" cy="48.30" r="3.8" fill="url(#gP)"/><circle cx="317.50" cy="48.30" r="3.8" fill="url(#gO)"/><circle cx="326.50" cy="48.30" r="3.8" fill="url(#gO)"/><circle cx="335.50" cy="48.30" r="3.8" fill="url(#gT)"/><circle cx="344.50" cy="48.30" r="3.8" fill="url(#gT)"/><circle cx="353.50" cy="48.30" r="3.8" fill="url(#gG)"/><circle cx="362.50" cy="48.30" r="3.8" fill="url(#gY)"/><circle cx="371.50" cy="48.30" r="3.8" fill="url(#gO)"/><circle cx="380.50" cy="48.30" r="3.8" fill="url(#gO)"/><circle cx="389.50" cy="48.30" r="3.8" fill="url(#gG)"/><circle cx="398.50" cy="48.30" r="3.8" fill="url(#gT)"/><circle cx="407.50" cy="48.30" r="3.8" fill="url(#gT)"/><circle cx="218.50" cy="57.25" r="3.8" fill="url(#gO)"/><circle cx="227.50" cy="57.25" r="3.8" fill="url(#gG)"/><circle cx="236.50" cy="57.25" r="3.8" fill="url(#gU)"/><circle cx="245.50" cy="57.25" r="3.8" fill="url(#gY)"/><circle cx="254.50" cy="57.25" r="3.8" fill="url(#gP)"/><circle cx="263.50" cy="57.25" r="3.8" fill="url(#gT)"/><circle cx="272.50" cy="57.25" r="3.8" fill="url(#gC)"/><circle cx="281.50" cy="57.25" r="3.8" fill="url(#gP)"/><circle cx="290.50" cy="57.25" r="3.8" fill="url(#gO)"/><circle cx="299.50" cy="57.25" r="3.8" fill="url(#gP)"/><circle cx="308.50" cy="57.25" r="3.8" fill="url(#gO)"/><circle cx="317.50" cy="57.25" r="3.8" fill="url(#gP)"/><circle cx="326.50" cy="57.25" r="3.8" fill="url(#gO)"/><circle cx="335.50" cy="57.25" r="3.8" fill="url(#gP)"/><circle cx="344.50" cy="57.25" r="3.8" fill="url(#gU)"/><circle cx="353.50" cy="57.25" r="3.8" fill="url(#gC)"/><circle cx="362.50" cy="57.25" r="3.8" fill="url(#gU)"/><circle cx="371.50" cy="57.25" r="3.8" fill="url(#gG)"/><circle cx="380.50" cy="57.25" r="3.8" fill="url(#gO)"/><circle cx="389.50" cy="57.25" r="3.8" fill="url(#gO)"/><circle cx="398.50" cy="57.25" r="3.8" fill="url(#gG)"/><circle cx="407.50" cy="57.25" r="3.8" fill="url(#gY)"/><circle cx="218.50" cy="66.20" r="3.8" fill="url(#gY)"/><circle cx="227.50" cy="66.20" r="3.8" fill="url(#gT)"/><circle cx="236.50" cy="66.20" r="3.8" fill="url(#gY)"/><circle cx="245.50" cy="66.20" r="3.8" fill="url(#gO)"/><circle cx="254.50" cy="66.20" r="3.8" fill="url(#gT)"/><circle cx="263.50" cy="66.20" r="3.8" fill="url(#gC)"/><circle cx="272.50" cy="66.20" r="3.8" fill="url(#gP)"/><circle cx="281.50" cy="66.20" r="3.8" fill="url(#gR)"/><circle cx="290.50" cy="66.20" r="3.8" fill="url(#gR)"/><circle cx="299.50" cy="66.20" r="3.8" fill="url(#gR)"/><circle cx="308.50" cy="66.20" r="3.8" fill="url(#gR)"/><circle cx="317.50" cy="66.20" r="3.8" fill="url(#gR)"/><circle cx="326.50" cy="66.20" r="3.8" fill="url(#gP)"/><circle cx="335.50" cy="66.20" r="3.8" fill="url(#gP)"/><circle cx="344.50" cy="66.20" r="3.8" fill="url(#gP)"/><circle cx="353.50" cy="66.20" r="3.8" fill="url(#gC)"/><circle cx="362.50" cy="66.20" r="3.8" fill="url(#gU)"/><circle cx="371.50" cy="66.20" r="3.8" fill="url(#gY)"/><circle cx="380.50" cy="66.20" r="3.8" fill="url(#gY)"/><circle cx="389.50" cy="66.20" r="3.8" fill="url(#gO)"/><circle cx="398.50" cy="66.20" r="3.8" fill="url(#gL)"/><circle cx="407.50" cy="66.20" r="3.8" fill="url(#gG)"/><circle cx="218.50" cy="75.15" r="3.8" fill="url(#gY)"/><circle cx="227.50" cy="75.15" r="3.8" fill="url(#gY)"/><circle cx="236.50" cy="75.15" r="3.8" fill="url(#gO)"/><circle cx="245.50" cy="75.15" r="3.8" fill="url(#gY)"/><circle cx="254.50" cy="75.15" r="3.8" fill="url(#gT)"/><circle cx="263.50" cy="75.15" r="3.8" fill="url(#gT)"/><circle cx="272.50" cy="75.15" r="3.8" fill="url(#gR)"/><circle cx="281.50" cy="75.15" r="3.8" fill="url(#gR)"/><circle cx="290.50" cy="75.15" r="3.8" fill="url(#gR)"/><circle cx="299.50" cy="75.15" r="3.8" fill="url(#gQ)"/><circle cx="308.50" cy="75.15" r="3.8" fill="url(#gM)"/><circle cx="317.50" cy="75.15" r="3.8" fill="url(#gQ)"/><circle cx="326.50" cy="75.15" r="3.8" fill="url(#gP)"/><circle cx="335.50" cy="75.15" r="3.8" fill="url(#gP)"/><circle cx="344.50" cy="75.15" r="3.8" fill="url(#gP)"/><circle cx="353.50" cy="75.15" r="3.8" fill="url(#gG)"/><circle cx="362.50" cy="75.15" r="3.8" fill="url(#gC)"/><circle cx="371.50" cy="75.15" r="3.8" fill="url(#gY)"/><circle cx="380.50" cy="75.15" r="3.8" fill="url(#gY)"/><circle cx="389.50" cy="75.15" r="3.8" fill="url(#gO)"/><circle cx="398.50" cy="75.15" r="3.8" fill="url(#gO)"/><circle cx="407.50" cy="75.15" r="3.8" fill="url(#gY)"/><circle cx="218.50" cy="84.10" r="3.8" fill="url(#gY)"/><circle cx="227.50" cy="84.10" r="3.8" fill="url(#gY)"/><circle cx="236.50" cy="84.10" r="3.8" fill="url(#gY)"/><circle cx="245.50" cy="84.10" r="3.8" fill="url(#gP)"/><circle cx="254.50" cy="84.10" r="3.8" fill="url(#gV)"/><circle cx="263.50" cy="84.10" r="3.8" fill="url(#gY)"/><circle cx="272.50" cy="84.10" r="3.8" fill="url(#gG)"/><circle cx="281.50" cy="84.10" r="3.8" fill="url(#gV)"/><circle cx="290.50" cy="84.10" r="3.8" fill="url(#gC)"/><circle cx="299.50" cy="84.10" r="3.8" fill="url(#gQ)"/><circle cx="308.50" cy="84.10" r="3.8" fill="url(#gD)"/><circle cx="317.50" cy="84.10" r="3.8" fill="url(#gD)"/><circle cx="326.50" cy="84.10" r="3.8" fill="url(#gQ)"/><circle cx="335.50" cy="84.10" r="3.8" fill="url(#gP)"/><circle cx="344.50" cy="84.10" r="3.8" fill="url(#gP)"/><circle cx="353.50" cy="84.10" r="3.8" fill="url(#gP)"/><circle cx="362.50" cy="84.10" r="3.8" fill="url(#gC)"/><circle cx="371.50" cy="84.10" r="3.8" fill="url(#gL)"/><circle cx="380.50" cy="84.10" r="3.8" fill="url(#gG)"/><circle cx="389.50" cy="84.10" r="3.8" fill="url(#gG)"/><circle cx="398.50" cy="84.10" r="3.8" fill="url(#gU)"/><circle cx="407.50" cy="84.10" r="3.8" fill="url(#gU)"/><circle cx="218.50" cy="93.05" r="3.8" fill="url(#gY)"/><circle cx="227.50" cy="93.05" r="3.8" fill="url(#gY)"/><circle cx="236.50" cy="93.05" r="3.8" fill="url(#gY)"/><circle cx="245.50" cy="93.05" r="3.8" fill="url(#gP)"/><circle cx="254.50" cy="93.05" r="3.8" fill="url(#gV)"/><circle cx="263.50" cy="93.05" r="3.8" fill="url(#gY)"/><circle cx="272.50" cy="93.05" r="3.8" fill="url(#gG)"/><circle cx="281.50" cy="93.05" r="3.8" fill="url(#gV)"/><circle cx="290.50" cy="93.05" r="3.8" fill="url(#gC)"/><circle cx="299.50" cy="93.05" r="3.8" fill="url(#gQ)"/><circle cx="308.50" cy="93.05" r="3.8" fill="url(#gD)"/><circle cx="317.50" cy="93.05" r="3.8" fill="url(#gD)"/><circle cx="326.50" cy="93.05" r="3.8" fill="url(#gQ)"/><circle cx="335.50" cy="93.05" r="3.8" fill="url(#gP)"/><circle cx="344.50" cy="93.05" r="3.8" fill="url(#gP)"/><circle cx="353.50" cy="93.05" r="3.8" fill="url(#gP)"/><circle cx="362.50" cy="93.05" r="3.8" fill="url(#gC)"/><circle cx="371.50" cy="93.05" r="3.8" fill="url(#gL)"/><circle cx="380.50" cy="93.05" r="3.8" fill="url(#gG)"/><circle cx="389.50" cy="93.05" r="3.8" fill="url(#gG)"/><circle cx="398.50" cy="93.05" r="3.8" fill="url(#gU)"/><circle cx="407.50" cy="93.05" r="3.8" fill="url(#gU)"/><circle cx="218.50" cy="102.00" r="3.8" fill="url(#gY)"/><circle cx="227.50" cy="102.00" r="3.8" fill="url(#gY)"/><circle cx="236.50" cy="102.00" r="3.8" fill="url(#gO)"/><circle cx="245.50" cy="102.00" r="3.8" fill="url(#gY)"/><circle cx="254.50" cy="102.00" r="3.8" fill="url(#gT)"/><circle cx="263.50" cy="102.00" r="3.8" fill="url(#gT)"/><circle cx="272.50" cy="102.00" r="3.8" fill="url(#gR)"/><circle cx="281.50" cy="102.00" r="3.8" fill="url(#gR)"/><circle cx="290.50" cy="102.00" r="3.8" fill="url(#gR)"/><circle cx="299.50" cy="102.00" r="3.8" fill="url(#gQ)"/><circle cx="308.50" cy="102.00" r="3.8" fill="url(#gM)"/><circle cx="317.50" cy="102.00" r="3.8" fill="url(#gQ)"/><circle cx="326.50" cy="102.00" r="3.8" fill="url(#gP)"/><circle cx="335.50" cy="102.00" r="3.8" fill="url(#gP)"/><circle cx="344.50" cy="102.00" r="3.8" fill="url(#gP)"/><circle cx="353.50" cy="102.00" r="3.8" fill="url(#gG)"/><circle cx="362.50" cy="102.00" r="3.8" fill="url(#gC)"/><circle cx="371.50" cy="102.00" r="3.8" fill="url(#gY)"/><circle cx="380.50" cy="102.00" r="3.8" fill="url(#gY)"/><circle cx="389.50" cy="102.00" r="3.8" fill="url(#gO)"/><circle cx="398.50" cy="102.00" r="3.8" fill="url(#gO)"/><circle cx="407.50" cy="102.00" r="3.8" fill="url(#gY)"/><circle cx="218.50" cy="110.95" r="3.8" fill="url(#gY)"/><circle cx="227.50" cy="110.95" r="3.8" fill="url(#gT)"/><circle cx="236.50" cy="110.95" r="3.8" fill="url(#gY)"/><circle cx="245.50" cy="110.95" r="3.8" fill="url(#gO)"/><circle cx="254.50" cy="110.95" r="3.8" fill="url(#gT)"/><circle cx="263.50" cy="110.95" r="3.8" fill="url(#gC)"/><circle cx="272.50" cy="110.95" r="3.8" fill="url(#gP)"/><circle cx="281.50" cy="110.95" r="3.8" fill="url(#gR)"/><circle cx="290.50" cy="110.95" r="3.8" fill="url(#gR)"/><circle cx="299.50" cy="110.95" r="3.8" fill="url(#gR)"/><circle cx="308.50" cy="110.95" r="3.8" fill="url(#gR)"/><circle cx="317.50" cy="110.95" r="3.8" fill="url(#gR)"/><circle cx="326.50" cy="110.95" r="3.8" fill="url(#gP)"/><circle cx="335.50" cy="110.95" r="3.8" fill="url(#gP)"/><circle cx="344.50" cy="110.95" r="3.8" fill="url(#gP)"/><circle cx="353.50" cy="110.95" r="3.8" fill="url(#gC)"/><circle cx="362.50" cy="110.95" r="3.8" fill="url(#gU)"/><circle cx="371.50" cy="110.95" r="3.8" fill="url(#gY)"/><circle cx="380.50" cy="110.95" r="3.8" fill="url(#gY)"/><circle cx="389.50" cy="110.95" r="3.8" fill="url(#gO)"/><circle cx="398.50" cy="110.95" r="3.8" fill="url(#gL)"/><circle cx="407.50" cy="110.95" r="3.8" fill="url(#gG)"/><circle cx="218.50" cy="119.90" r="3.8" fill="url(#gO)"/><circle cx="227.50" cy="119.90" r="3.8" fill="url(#gG)"/><circle cx="236.50" cy="119.90" r="3.8" fill="url(#gU)"/><circle cx="245.50" cy="119.90" r="3.8" fill="url(#gY)"/><circle cx="254.50" cy="119.90" r="3.8" fill="url(#gP)"/><circle cx="263.50" cy="119.90" r="3.8" fill="url(#gT)"/><circle cx="272.50" cy="119.90" r="3.8" fill="url(#gC)"/><circle cx="281.50" cy="119.90" r="3.8" fill="url(#gP)"/><circle cx="290.50" cy="119.90" r="3.8" fill="url(#gO)"/><circle cx="299.50" cy="119.90" r="3.8" fill="url(#gP)"/><circle cx="308.50" cy="119.90" r="3.8" fill="url(#gO)"/><circle cx="317.50" cy="119.90" r="3.8" fill="url(#gP)"/><circle cx="326.50" cy="119.90" r="3.8" fill="url(#gO)"/><circle cx="335.50" cy="119.90" r="3.8" fill="url(#gP)"/><circle cx="344.50" cy="119.90" r="3.8" fill="url(#gU)"/><circle cx="353.50" cy="119.90" r="3.8" fill="url(#gC)"/><circle cx="362.50" cy="119.90" r="3.8" fill="url(#gU)"/><circle cx="371.50" cy="119.90" r="3.8" fill="url(#gG)"/><circle cx="380.50" cy="119.90" r="3.8" fill="url(#gO)"/><circle cx="389.50" cy="119.90" r="3.8" fill="url(#gO)"/><circle cx="398.50" cy="119.90" r="3.8" fill="url(#gG)"/><circle cx="407.50" cy="119.90" r="3.8" fill="url(#gY)"/><circle cx="218.50" cy="128.85" r="3.8" fill="url(#gY)"/><circle cx="227.50" cy="128.85" r="3.8" fill="url(#gO)"/><circle cx="236.50" cy="128.85" r="3.8" fill="url(#gO)"/><circle cx="245.50" cy="128.85" r="3.8" fill="url(#gU)"/><circle cx="254.50" cy="128.85" r="3.8" fill="url(#gO)"/><circle cx="263.50" cy="128.85" r="3.8" fill="url(#gO)"/><circle cx="272.50" cy="128.85" r="3.8" fill="url(#gT)"/><circle cx="281.50" cy="128.85" r="3.8" fill="url(#gC)"/><circle cx="290.50" cy="128.85" r="3.8" fill="url(#gY)"/><circle cx="299.50" cy="128.85" r="3.8" fill="url(#gP)"/><circle cx="308.50" cy="128.85" r="3.8" fill="url(#gP)"/><circle cx="317.50" cy="128.85" r="3.8" fill="url(#gO)"/><circle cx="326.50" cy="128.85" r="3.8" fill="url(#gO)"/><circle cx="335.50" cy="128.85" r="3.8" fill="url(#gT)"/><circle cx="344.50" cy="128.85" r="3.8" fill="url(#gT)"/><circle cx="353.50" cy="128.85" r="3.8" fill="url(#gG)"/><circle cx="362.50" cy="128.85" r="3.8" fill="url(#gY)"/><circle cx="371.50" cy="128.85" r="3.8" fill="url(#gO)"/><circle cx="380.50" cy="128.85" r="3.8" fill="url(#gO)"/><circle cx="389.50" cy="128.85" r="3.8" fill="url(#gG)"/><circle cx="398.50" cy="128.85" r="3.8" fill="url(#gT)"/><circle cx="407.50" cy="128.85" r="3.8" fill="url(#gT)"/><circle cx="218.50" cy="137.80" r="3.8" fill="url(#gT)"/><circle cx="227.50" cy="137.80" r="3.8" fill="url(#gT)"/><circle cx="236.50" cy="137.80" r="3.8" fill="url(#gU)"/><circle cx="245.50" cy="137.80" r="3.8" fill="url(#gO)"/><circle cx="254.50" cy="137.80" r="3.8" fill="url(#gY)"/><circle cx="263.50" cy="137.80" r="3.8" fill="url(#gY)"/><circle cx="272.50" cy="137.80" r="3.8" fill="url(#gO)"/><circle cx="281.50" cy="137.80" r="3.8" fill="url(#gC)"/><circle cx="290.50" cy="137.80" r="3.8" fill="url(#gC)"/><circle cx="299.50" cy="137.80" r="3.8" fill="url(#gC)"/><circle cx="308.50" cy="137.80" r="3.8" fill="url(#gC)"/><circle cx="317.50" cy="137.80" r="3.8" fill="url(#gT)"/><circle cx="326.50" cy="137.80" r="3.8" fill="url(#gB)"/><circle cx="335.50" cy="137.80" r="3.8" fill="url(#gT)"/><circle cx="344.50" cy="137.80" r="3.8" fill="url(#gY)"/><circle cx="353.50" cy="137.80" r="3.8" fill="url(#gO)"/><circle cx="362.50" cy="137.80" r="3.8" fill="url(#gY)"/><circle cx="371.50" cy="137.80" r="3.8" fill="url(#gO)"/><circle cx="380.50" cy="137.80" r="3.8" fill="url(#gY)"/><circle cx="389.50" cy="137.80" r="3.8" fill="url(#gL)"/><circle cx="398.50" cy="137.80" r="3.8" fill="url(#gG)"/><circle cx="407.50" cy="137.80" r="3.8" fill="url(#gU)"/><circle cx="218.50" cy="146.75" r="3.8" fill="url(#gY)"/><circle cx="227.50" cy="146.75" r="3.8" fill="url(#gO)"/><circle cx="236.50" cy="146.75" r="3.8" fill="url(#gY)"/><circle cx="245.50" cy="146.75" r="3.8" fill="url(#gY)"/><circle cx="254.50" cy="146.75" r="3.8" fill="url(#gY)"/><circle cx="263.50" cy="146.75" r="3.8" fill="url(#gO)"/><circle cx="272.50" cy="146.75" r="3.8" fill="url(#gY)"/><circle cx="281.50" cy="146.75" r="3.8" fill="url(#gY)"/><circle cx="290.50" cy="146.75" r="3.8" fill="url(#gG)"/><circle cx="299.50" cy="146.75" r="3.8" fill="url(#gU)"/><circle cx="308.50" cy="146.75" r="3.8" fill="url(#gT)"/><circle cx="317.50" cy="146.75" r="3.8" fill="url(#gU)"/><circle cx="326.50" cy="146.75" r="3.8" fill="url(#gO)"/><circle cx="335.50" cy="146.75" r="3.8" fill="url(#gO)"/><circle cx="344.50" cy="146.75" r="3.8" fill="url(#gY)"/><circle cx="353.50" cy="146.75" r="3.8" fill="url(#gG)"/><circle cx="362.50" cy="146.75" r="3.8" fill="url(#gG)"/><circle cx="371.50" cy="146.75" r="3.8" fill="url(#gU)"/><circle cx="380.50" cy="146.75" r="3.8" fill="url(#gY)"/><circle cx="389.50" cy="146.75" r="3.8" fill="url(#gO)"/><circle cx="398.50" cy="146.75" r="3.8" fill="url(#gO)"/><circle cx="407.50" cy="146.75" r="3.8" fill="url(#gY)"/><circle cx="218.50" cy="155.70" r="3.8" fill="url(#gT)"/><circle cx="227.50" cy="155.70" r="3.8" fill="url(#gU)"/><circle cx="236.50" cy="155.70" r="3.8" fill="url(#gT)"/><circle cx="245.50" cy="155.70" r="3.8" fill="url(#gG)"/><circle cx="254.50" cy="155.70" r="3.8" fill="url(#gT)"/><circle cx="263.50" cy="155.70" r="3.8" fill="url(#gY)"/><circle cx="272.50" cy="155.70" r="3.8" fill="url(#gY)"/><circle cx="281.50" cy="155.70" r="3.8" fill="url(#gY)"/><circle cx="290.50" cy="155.70" r="3.8" fill="url(#gG)"/><circle cx="299.50" cy="155.70" r="3.8" fill="url(#gO)"/><circle cx="308.50" cy="155.70" r="3.8" fill="url(#gO)"/><circle cx="317.50" cy="155.70" r="3.8" fill="url(#gY)"/><circle cx="326.50" cy="155.70" r="3.8" fill="url(#gG)"/><circle cx="335.50" cy="155.70" r="3.8" fill="url(#gY)"/><circle cx="344.50" cy="155.70" r="3.8" fill="url(#gY)"/><circle cx="353.50" cy="155.70" r="3.8" fill="url(#gY)"/><circle cx="362.50" cy="155.70" r="3.8" fill="url(#gO)"/><circle cx="371.50" cy="155.70" r="3.8" fill="url(#gO)"/><circle cx="380.50" cy="155.70" r="3.8" fill="url(#gO)"/><circle cx="389.50" cy="155.70" r="3.8" fill="url(#gO)"/><circle cx="398.50" cy="155.70" r="3.8" fill="url(#gG)"/><circle cx="407.50" cy="155.70" r="3.8" fill="url(#gG)"/><circle cx="218.50" cy="164.65" r="3.8" fill="url(#gO)"/><circle cx="227.50" cy="164.65" r="3.8" fill="url(#gO)"/><circle cx="236.50" cy="164.65" r="3.8" fill="url(#gO)"/><circle cx="245.50" cy="164.65" r="3.8" fill="url(#gO)"/><circle cx="254.50" cy="164.65" r="3.8" fill="url(#gY)"/><circle cx="263.50" cy="164.65" r="3.8" fill="url(#gY)"/><circle cx="272.50" cy="164.65" r="3.8" fill="url(#gO)"/><circle cx="281.50" cy="164.65" r="3.8" fill="url(#gY)"/><circle cx="290.50" cy="164.65" r="3.8" fill="url(#gO)"/><circle cx="299.50" cy="164.65" r="3.8" fill="url(#gY)"/><circle cx="308.50" cy="164.65" r="3.8" fill="url(#gO)"/><circle cx="317.50" cy="164.65" r="3.8" fill="url(#gO)"/><circle cx="326.50" cy="164.65" r="3.8" fill="url(#gO)"/><circle cx="335.50" cy="164.65" r="3.8" fill="url(#gY)"/><circle cx="344.50" cy="164.65" r="3.8" fill="url(#gG)"/><circle cx="353.50" cy="164.65" r="3.8" fill="url(#gT)"/><circle cx="362.50" cy="164.65" r="3.8" fill="url(#gT)"/><circle cx="371.50" cy="164.65" r="3.8" fill="url(#gT)"/><circle cx="380.50" cy="164.65" r="3.8" fill="url(#gL)"/><circle cx="389.50" cy="164.65" r="3.8" fill="url(#gO)"/><circle cx="398.50" cy="164.65" r="3.8" fill="url(#gY)"/><circle cx="407.50" cy="164.65" r="3.8" fill="url(#gY)"/><circle cx="313.00" cy="88.57" r="3.5" fill="url(#gE)"/><circle cx="14.10" cy="191.00" r="3.8" fill="url(#gG)"/><circle cx="23.10" cy="191.00" r="3.8" fill="url(#gO)"/><circle cx="32.10" cy="191.00" r="3.8" fill="url(#gG)"/><circle cx="41.10" cy="191.00" r="3.8" fill="url(#gO)"/><circle cx="50.10" cy="191.00" r="3.8" fill="url(#gG)"/><circle cx="59.10" cy="191.00" r="3.8" fill="url(#gG)"/><circle cx="68.10" cy="191.00" r="3.8" fill="url(#gT)"/><circle cx="77.10" cy="191.00" r="3.8" fill="url(#gG)"/><circle cx="86.10" cy="191.00" r="3.8" fill="url(#gG)"/><circle cx="95.10" cy="191.00" r="3.8" fill="url(#gY)"/><circle cx="104.10" cy="191.00" r="3.8" fill="url(#gO)"/><circle cx="113.10" cy="191.00" r="3.8" fill="url(#gY)"/><circle cx="122.10" cy="191.00" r="3.8" fill="url(#gY)"/><circle cx="131.10" cy="191.00" r="3.8" fill="url(#gO)"/><circle cx="140.10" cy="191.00" r="3.8" fill="url(#gG)"/><circle cx="149.10" cy="191.00" r="3.8" fill="url(#gG)"/><circle cx="158.10" cy="191.00" r="3.8" fill="url(#gY)"/><circle cx="167.10" cy="191.00" r="3.8" fill="url(#gY)"/><circle cx="176.10" cy="191.00" r="3.8" fill="url(#gG)"/><circle cx="185.10" cy="191.00" r="3.8" fill="url(#gO)"/><circle cx="194.10" cy="191.00" r="3.8" fill="url(#gG)"/><circle cx="203.10" cy="191.00" r="3.8" fill="url(#gL)"/><circle cx="14.10" cy="199.95" r="3.8" fill="url(#gG)"/><circle cx="23.10" cy="199.95" r="3.8" fill="url(#gG)"/><circle cx="32.10" cy="199.95" r="3.8" fill="url(#gG)"/><circle cx="41.10" cy="199.95" r="3.8" fill="url(#gU)"/><circle cx="50.10" cy="199.95" r="3.8" fill="url(#gT)"/><circle cx="59.10" cy="199.95" r="3.8" fill="url(#gG)"/><circle cx="68.10" cy="199.95" r="3.8" fill="url(#gT)"/><circle cx="77.10" cy="199.95" r="3.8" fill="url(#gY)"/><circle cx="86.10" cy="199.95" r="3.8" fill="url(#gG)"/><circle cx="95.10" cy="199.95" r="3.8" fill="url(#gL)"/><circle cx="104.10" cy="199.95" r="3.8" fill="url(#gY)"/><circle cx="113.10" cy="199.95" r="3.8" fill="url(#gY)"/><circle cx="122.10" cy="199.95" r="3.8" fill="url(#gY)"/><circle cx="131.10" cy="199.95" r="3.8" fill="url(#gY)"/><circle cx="140.10" cy="199.95" r="3.8" fill="url(#gG)"/><circle cx="149.10" cy="199.95" r="3.8" fill="url(#gU)"/><circle cx="158.10" cy="199.95" r="3.8" fill="url(#gG)"/><circle cx="167.10" cy="199.95" r="3.8" fill="url(#gG)"/><circle cx="176.10" cy="199.95" r="3.8" fill="url(#gL)"/><circle cx="185.10" cy="199.95" r="3.8" fill="url(#gG)"/><circle cx="194.10" cy="199.95" r="3.8" fill="url(#gO)"/><circle cx="203.10" cy="199.95" r="3.8" fill="url(#gO)"/><circle cx="14.10" cy="208.90" r="3.8" fill="url(#gL)"/><circle cx="23.10" cy="208.90" r="3.8" fill="url(#gO)"/><circle cx="32.10" cy="208.90" r="3.8" fill="url(#gL)"/><circle cx="41.10" cy="208.90" r="3.8" fill="url(#gG)"/><circle cx="50.10" cy="208.90" r="3.8" fill="url(#gO)"/><circle cx="59.10" cy="208.90" r="3.8" fill="url(#gY)"/><circle cx="68.10" cy="208.90" r="3.8" fill="url(#gO)"/><circle cx="77.10" cy="208.90" r="3.8" fill="url(#gO)"/><circle cx="86.10" cy="208.90" r="3.8" fill="url(#gY)"/><circle cx="95.10" cy="208.90" r="3.8" fill="url(#gG)"/><circle cx="104.10" cy="208.90" r="3.8" fill="url(#gY)"/><circle cx="113.10" cy="208.90" r="3.8" fill="url(#gG)"/><circle cx="122.10" cy="208.90" r="3.8" fill="url(#gY)"/><circle cx="131.10" cy="208.90" r="3.8" fill="url(#gL)"/><circle cx="140.10" cy="208.90" r="3.8" fill="url(#gY)"/><circle cx="149.10" cy="208.90" r="3.8" fill="url(#gG)"/><circle cx="158.10" cy="208.90" r="3.8" fill="url(#gG)"/><circle cx="167.10" cy="208.90" r="3.8" fill="url(#gL)"/><circle cx="176.10" cy="208.90" r="3.8" fill="url(#gG)"/><circle cx="185.10" cy="208.90" r="3.8" fill="url(#gL)"/><circle cx="194.10" cy="208.90" r="3.8" fill="url(#gG)"/><circle cx="203.10" cy="208.90" r="3.8" fill="url(#gG)"/><circle cx="14.10" cy="217.85" r="3.8" fill="url(#gY)"/><circle cx="23.10" cy="217.85" r="3.8" fill="url(#gL)"/><circle cx="32.10" cy="217.85" r="3.8" fill="url(#gG)"/><circle cx="41.10" cy="217.85" r="3.8" fill="url(#gG)"/><circle cx="50.10" cy="217.85" r="3.8" fill="url(#gG)"/><circle cx="59.10" cy="217.85" r="3.8" fill="url(#gU)"/><circle cx="68.10" cy="217.85" r="3.8" fill="url(#gG)"/><circle cx="77.10" cy="217.85" r="3.8" fill="url(#gY)"/><circle cx="86.10" cy="217.85" r="3.8" fill="url(#gU)"/><circle cx="95.10" cy="217.85" r="3.8" fill="url(#gU)"/><circle cx="104.10" cy="217.85" r="3.8" fill="url(#gT)"/><circle cx="113.10" cy="217.85" r="3.8" fill="url(#gT)"/><circle cx="122.10" cy="217.85" r="3.8" fill="url(#gT)"/><circle cx="131.10" cy="217.85" r="3.8" fill="url(#gG)"/><circle cx="140.10" cy="217.85" r="3.8" fill="url(#gU)"/><circle cx="149.10" cy="217.85" r="3.8" fill="url(#gG)"/><circle cx="158.10" cy="217.85" r="3.8" fill="url(#gY)"/><circle cx="167.10" cy="217.85" r="3.8" fill="url(#gU)"/><circle cx="176.10" cy="217.85" r="3.8" fill="url(#gG)"/><circle cx="185.10" cy="217.85" r="3.8" fill="url(#gY)"/><circle cx="194.10" cy="217.85" r="3.8" fill="url(#gG)"/><circle cx="203.10" cy="217.85" r="3.8" fill="url(#gY)"/><circle cx="14.10" cy="226.80" r="3.8" fill="url(#gY)"/><circle cx="23.10" cy="226.80" r="3.8" fill="url(#gG)"/><circle cx="32.10" cy="226.80" r="3.8" fill="url(#gG)"/><circle cx="41.10" cy="226.80" r="3.8" fill="url(#gG)"/><circle cx="50.10" cy="226.80" r="3.8" fill="url(#gY)"/><circle cx="59.10" cy="226.80" r="3.8" fill="url(#gY)"/><circle cx="68.10" cy="226.80" r="3.8" fill="url(#gO)"/><circle cx="77.10" cy="226.80" r="3.8" fill="url(#gT)"/><circle cx="86.10" cy="226.80" r="3.8" fill="url(#gU)"/><circle cx="95.10" cy="226.80" r="3.8" fill="url(#gO)"/><circle cx="104.10" cy="226.80" r="3.8" fill="url(#gO)"/><circle cx="113.10" cy="226.80" r="3.8" fill="url(#gO)"/><circle cx="122.10" cy="226.80" r="3.8" fill="url(#gO)"/><circle cx="131.10" cy="226.80" r="3.8" fill="url(#gU)"/><circle cx="140.10" cy="226.80" r="3.8" fill="url(#gU)"/><circle cx="149.10" cy="226.80" r="3.8" fill="url(#gU)"/><circle cx="158.10" cy="226.80" r="3.8" fill="url(#gG)"/><circle cx="167.10" cy="226.80" r="3.8" fill="url(#gY)"/><circle cx="176.10" cy="226.80" r="3.8" fill="url(#gY)"/><circle cx="185.10" cy="226.80" r="3.8" fill="url(#gG)"/><circle cx="194.10" cy="226.80" r="3.8" fill="url(#gG)"/><circle cx="203.10" cy="226.80" r="3.8" fill="url(#gY)"/><circle cx="14.10" cy="235.75" r="3.8" fill="url(#gO)"/><circle cx="23.10" cy="235.75" r="3.8" fill="url(#gG)"/><circle cx="32.10" cy="235.75" r="3.8" fill="url(#gG)"/><circle cx="41.10" cy="235.75" r="3.8" fill="url(#gG)"/><circle cx="50.10" cy="235.75" r="3.8" fill="url(#gY)"/><circle cx="59.10" cy="235.75" r="3.8" fill="url(#gO)"/><circle cx="68.10" cy="235.75" r="3.8" fill="url(#gT)"/><circle cx="77.10" cy="235.75" r="3.8" fill="url(#gO)"/><circle cx="86.10" cy="235.75" r="3.8" fill="url(#gY)"/><circle cx="95.10" cy="235.75" r="3.8" fill="url(#gT)"/><circle cx="104.10" cy="235.75" r="3.8" fill="url(#gG)"/><circle cx="113.10" cy="235.75" r="3.8" fill="url(#gG)"/><circle cx="122.10" cy="235.75" r="3.8" fill="url(#gG)"/><circle cx="131.10" cy="235.75" r="3.8" fill="url(#gP)"/><circle cx="140.10" cy="235.75" r="3.8" fill="url(#gG)"/><circle cx="149.10" cy="235.75" r="3.8" fill="url(#gT)"/><circle cx="158.10" cy="235.75" r="3.8" fill="url(#gG)"/><circle cx="167.10" cy="235.75" r="3.8" fill="url(#gO)"/><circle cx="176.10" cy="235.75" r="3.8" fill="url(#gY)"/><circle cx="185.10" cy="235.75" r="3.8" fill="url(#gG)"/><circle cx="194.10" cy="235.75" r="3.8" fill="url(#gO)"/><circle cx="203.10" cy="235.75" r="3.8" fill="url(#gG)"/><circle cx="14.10" cy="244.70" r="3.8" fill="url(#gL)"/><circle cx="23.10" cy="244.70" r="3.8" fill="url(#gY)"/><circle cx="32.10" cy="244.70" r="3.8" fill="url(#gG)"/><circle cx="41.10" cy="244.70" r="3.8" fill="url(#gG)"/><circle cx="50.10" cy="244.70" r="3.8" fill="url(#gY)"/><circle cx="59.10" cy="244.70" r="3.8" fill="url(#gG)"/><circle cx="68.10" cy="244.70" r="3.8" fill="url(#gY)"/><circle cx="77.10" cy="244.70" r="3.8" fill="url(#gO)"/><circle cx="86.10" cy="244.70" r="3.8" fill="url(#gG)"/><circle cx="95.10" cy="244.70" r="3.8" fill="url(#gP)"/><circle cx="104.10" cy="244.70" r="3.8" fill="url(#gG)"/><circle cx="113.10" cy="244.70" r="3.8" fill="url(#gG)"/><circle cx="122.10" cy="244.70" r="3.8" fill="url(#gP)"/><circle cx="131.10" cy="244.70" r="3.8" fill="url(#gT)"/><circle cx="140.10" cy="244.70" r="3.8" fill="url(#gO)"/><circle cx="149.10" cy="244.70" r="3.8" fill="url(#gT)"/><circle cx="158.10" cy="244.70" r="3.8" fill="url(#gG)"/><circle cx="167.10" cy="244.70" r="3.8" fill="url(#gY)"/><circle cx="176.10" cy="244.70" r="3.8" fill="url(#gG)"/><circle cx="185.10" cy="244.70" r="3.8" fill="url(#gG)"/><circle cx="194.10" cy="244.70" r="3.8" fill="url(#gL)"/><circle cx="203.10" cy="244.70" r="3.8" fill="url(#gG)"/><circle cx="14.10" cy="253.65" r="3.8" fill="url(#gG)"/><circle cx="23.10" cy="253.65" r="3.8" fill="url(#gL)"/><circle cx="32.10" cy="253.65" r="3.8" fill="url(#gL)"/><circle cx="41.10" cy="253.65" r="3.8" fill="url(#gY)"/><circle cx="50.10" cy="253.65" r="3.8" fill="url(#gG)"/><circle cx="59.10" cy="253.65" r="3.8" fill="url(#gT)"/><circle cx="68.10" cy="253.65" r="3.8" fill="url(#gR)"/><circle cx="77.10" cy="253.65" r="3.8" fill="url(#gT)"/><circle cx="86.10" cy="253.65" r="3.8" fill="url(#gP)"/><circle cx="95.10" cy="253.65" r="3.8" fill="url(#gG)"/><circle cx="104.10" cy="253.65" r="3.8" fill="url(#gQ)"/><circle cx="113.10" cy="253.65" r="3.8" fill="url(#gQ)"/><circle cx="122.10" cy="253.65" r="3.8" fill="url(#gC)"/><circle cx="131.10" cy="253.65" r="3.8" fill="url(#gP)"/><circle cx="140.10" cy="253.65" r="3.8" fill="url(#gY)"/><circle cx="149.10" cy="253.65" r="3.8" fill="url(#gG)"/><circle cx="158.10" cy="253.65" r="3.8" fill="url(#gU)"/><circle cx="167.10" cy="253.65" r="3.8" fill="url(#gG)"/><circle cx="176.10" cy="253.65" r="3.8" fill="url(#gU)"/><circle cx="185.10" cy="253.65" r="3.8" fill="url(#gU)"/><circle cx="194.10" cy="253.65" r="3.8" fill="url(#gG)"/><circle cx="203.10" cy="253.65" r="3.8" fill="url(#gY)"/><circle cx="14.10" cy="262.60" r="3.8" fill="url(#gO)"/><circle cx="23.10" cy="262.60" r="3.8" fill="url(#gY)"/><circle cx="32.10" cy="262.60" r="3.8" fill="url(#gG)"/><circle cx="41.10" cy="262.60" r="3.8" fill="url(#gY)"/><circle cx="50.10" cy="262.60" r="3.8" fill="url(#gY)"/><circle cx="59.10" cy="262.60" r="3.8" fill="url(#gT)"/><circle cx="68.10" cy="262.60" r="3.8" fill="url(#gY)"/><circle cx="77.10" cy="262.60" r="3.8" fill="url(#gO)"/><circle cx="86.10" cy="262.60" r="3.8" fill="url(#gT)"/><circle cx="95.10" cy="262.60" r="3.8" fill="url(#gQ)"/><circle cx="104.10" cy="262.60" r="3.8" fill="url(#gR)"/><circle cx="113.10" cy="262.60" r="3.8" fill="url(#gM)"/><circle cx="122.10" cy="262.60" r="3.8" fill="url(#gP)"/><circle cx="131.10" cy="262.60" r="3.8" fill="url(#gO)"/><circle cx="140.10" cy="262.60" r="3.8" fill="url(#gG)"/><circle cx="149.10" cy="262.60" r="3.8" fill="url(#gO)"/><circle cx="158.10" cy="262.60" r="3.8" fill="url(#gG)"/><circle cx="167.10" cy="262.60" r="3.8" fill="url(#gG)"/><circle cx="176.10" cy="262.60" r="3.8" fill="url(#gY)"/><circle cx="185.10" cy="262.60" r="3.8" fill="url(#gO)"/><circle cx="194.10" cy="262.60" r="3.8" fill="url(#gY)"/><circle cx="203.10" cy="262.60" r="3.8" fill="url(#gU)"/><circle cx="14.10" cy="271.55" r="3.8" fill="url(#gO)"/><circle cx="23.10" cy="271.55" r="3.8" fill="url(#gY)"/><circle cx="32.10" cy="271.55" r="3.8" fill="url(#gG)"/><circle cx="41.10" cy="271.55" r="3.8" fill="url(#gY)"/><circle cx="50.10" cy="271.55" r="3.8" fill="url(#gY)"/><circle cx="59.10" cy="271.55" r="3.8" fill="url(#gT)"/><circle cx="68.10" cy="271.55" r="3.8" fill="url(#gY)"/><circle cx="77.10" cy="271.55" r="3.8" fill="url(#gO)"/><circle cx="86.10" cy="271.55" r="3.8" fill="url(#gT)"/><circle cx="95.10" cy="271.55" r="3.8" fill="url(#gQ)"/><circle cx="104.10" cy="271.55" r="3.8" fill="url(#gR)"/><circle cx="113.10" cy="271.55" r="3.8" fill="url(#gM)"/><circle cx="122.10" cy="271.55" r="3.8" fill="url(#gP)"/><circle cx="131.10" cy="271.55" r="3.8" fill="url(#gO)"/><circle cx="140.10" cy="271.55" r="3.8" fill="url(#gG)"/><circle cx="149.10" cy="271.55" r="3.8" fill="url(#gO)"/><circle cx="158.10" cy="271.55" r="3.8" fill="url(#gG)"/><circle cx="167.10" cy="271.55" r="3.8" fill="url(#gG)"/><circle cx="176.10" cy="271.55" r="3.8" fill="url(#gY)"/><circle cx="185.10" cy="271.55" r="3.8" fill="url(#gO)"/><circle cx="194.10" cy="271.55" r="3.8" fill="url(#gY)"/><circle cx="203.10" cy="271.55" r="3.8" fill="url(#gU)"/><circle cx="14.10" cy="280.50" r="3.8" fill="url(#gG)"/><circle cx="23.10" cy="280.50" r="3.8" fill="url(#gL)"/><circle cx="32.10" cy="280.50" r="3.8" fill="url(#gL)"/><circle cx="41.10" cy="280.50" r="3.8" fill="url(#gY)"/><circle cx="50.10" cy="280.50" r="3.8" fill="url(#gG)"/><circle cx="59.10" cy="280.50" r="3.8" fill="url(#gT)"/><circle cx="68.10" cy="280.50" r="3.8" fill="url(#gR)"/><circle cx="77.10" cy="280.50" r="3.8" fill="url(#gT)"/><circle cx="86.10" cy="280.50" r="3.8" fill="url(#gP)"/><circle cx="95.10" cy="280.50" r="3.8" fill="url(#gG)"/><circle cx="104.10" cy="280.50" r="3.8" fill="url(#gQ)"/><circle cx="113.10" cy="280.50" r="3.8" fill="url(#gQ)"/><circle cx="122.10" cy="280.50" r="3.8" fill="url(#gC)"/><circle cx="131.10" cy="280.50" r="3.8" fill="url(#gP)"/><circle cx="140.10" cy="280.50" r="3.8" fill="url(#gY)"/><circle cx="149.10" cy="280.50" r="3.8" fill="url(#gG)"/><circle cx="158.10" cy="280.50" r="3.8" fill="url(#gU)"/><circle cx="167.10" cy="280.50" r="3.8" fill="url(#gG)"/><circle cx="176.10" cy="280.50" r="3.8" fill="url(#gU)"/><circle cx="185.10" cy="280.50" r="3.8" fill="url(#gU)"/><circle cx="194.10" cy="280.50" r="3.8" fill="url(#gG)"/><circle cx="203.10" cy="280.50" r="3.8" fill="url(#gY)"/><circle cx="14.10" cy="289.45" r="3.8" fill="url(#gL)"/><circle cx="23.10" cy="289.45" r="3.8" fill="url(#gY)"/><circle cx="32.10" cy="289.45" r="3.8" fill="url(#gG)"/><circle cx="41.10" cy="289.45" r="3.8" fill="url(#gG)"/><circle cx="50.10" cy="289.45" r="3.8" fill="url(#gY)"/><circle cx="59.10" cy="289.45" r="3.8" fill="url(#gG)"/><circle cx="68.10" cy="289.45" r="3.8" fill="url(#gY)"/><circle cx="77.10" cy="289.45" r="3.8" fill="url(#gO)"/><circle cx="86.10" cy="289.45" r="3.8" fill="url(#gG)"/><circle cx="95.10" cy="289.45" r="3.8" fill="url(#gP)"/><circle cx="104.10" cy="289.45" r="3.8" fill="url(#gG)"/><circle cx="113.10" cy="289.45" r="3.8" fill="url(#gG)"/><circle cx="122.10" cy="289.45" r="3.8" fill="url(#gP)"/><circle cx="131.10" cy="289.45" r="3.8" fill="url(#gT)"/><circle cx="140.10" cy="289.45" r="3.8" fill="url(#gO)"/><circle cx="149.10" cy="289.45" r="3.8" fill="url(#gT)"/><circle cx="158.10" cy="289.45" r="3.8" fill="url(#gG)"/><circle cx="167.10" cy="289.45" r="3.8" fill="url(#gY)"/><circle cx="176.10" cy="289.45" r="3.8" fill="url(#gG)"/><circle cx="185.10" cy="289.45" r="3.8" fill="url(#gG)"/><circle cx="194.10" cy="289.45" r="3.8" fill="url(#gL)"/><circle cx="203.10" cy="289.45" r="3.8" fill="url(#gG)"/><circle cx="14.10" cy="298.40" r="3.8" fill="url(#gO)"/><circle cx="23.10" cy="298.40" r="3.8" fill="url(#gG)"/><circle cx="32.10" cy="298.40" r="3.8" fill="url(#gG)"/><circle cx="41.10" cy="298.40" r="3.8" fill="url(#gG)"/><circle cx="50.10" cy="298.40" r="3.8" fill="url(#gY)"/><circle cx="59.10" cy="298.40" r="3.8" fill="url(#gO)"/><circle cx="68.10" cy="298.40" r="3.8" fill="url(#gT)"/><circle cx="77.10" cy="298.40" r="3.8" fill="url(#gO)"/><circle cx="86.10" cy="298.40" r="3.8" fill="url(#gY)"/><circle cx="95.10" cy="298.40" r="3.8" fill="url(#gT)"/><circle cx="104.10" cy="298.40" r="3.8" fill="url(#gG)"/><circle cx="113.10" cy="298.40" r="3.8" fill="url(#gG)"/><circle cx="122.10" cy="298.40" r="3.8" fill="url(#gG)"/><circle cx="131.10" cy="298.40" r="3.8" fill="url(#gP)"/><circle cx="140.10" cy="298.40" r="3.8" fill="url(#gG)"/><circle cx="149.10" cy="298.40" r="3.8" fill="url(#gT)"/><circle cx="158.10" cy="298.40" r="3.8" fill="url(#gG)"/><circle cx="167.10" cy="298.40" r="3.8" fill="url(#gO)"/><circle cx="176.10" cy="298.40" r="3.8" fill="url(#gY)"/><circle cx="185.10" cy="298.40" r="3.8" fill="url(#gG)"/><circle cx="194.10" cy="298.40" r="3.8" fill="url(#gO)"/><circle cx="203.10" cy="298.40" r="3.8" fill="url(#gG)"/><circle cx="14.10" cy="307.35" r="3.8" fill="url(#gY)"/><circle cx="23.10" cy="307.35" r="3.8" fill="url(#gG)"/><circle cx="32.10" cy="307.35" r="3.8" fill="url(#gG)"/><circle cx="41.10" cy="307.35" r="3.8" fill="url(#gG)"/><circle cx="50.10" cy="307.35" r="3.8" fill="url(#gY)"/><circle cx="59.10" cy="307.35" r="3.8" fill="url(#gY)"/><circle cx="68.10" cy="307.35" r="3.8" fill="url(#gO)"/><circle cx="77.10" cy="307.35" r="3.8" fill="url(#gT)"/><circle cx="86.10" cy="307.35" r="3.8" fill="url(#gU)"/><circle cx="95.10" cy="307.35" r="3.8" fill="url(#gO)"/><circle cx="104.10" cy="307.35" r="3.8" fill="url(#gO)"/><circle cx="113.10" cy="307.35" r="3.8" fill="url(#gO)"/><circle cx="122.10" cy="307.35" r="3.8" fill="url(#gO)"/><circle cx="131.10" cy="307.35" r="3.8" fill="url(#gU)"/><circle cx="140.10" cy="307.35" r="3.8" fill="url(#gU)"/><circle cx="149.10" cy="307.35" r="3.8" fill="url(#gU)"/><circle cx="158.10" cy="307.35" r="3.8" fill="url(#gG)"/><circle cx="167.10" cy="307.35" r="3.8" fill="url(#gY)"/><circle cx="176.10" cy="307.35" r="3.8" fill="url(#gY)"/><circle cx="185.10" cy="307.35" r="3.8" fill="url(#gG)"/><circle cx="194.10" cy="307.35" r="3.8" fill="url(#gG)"/><circle cx="203.10" cy="307.35" r="3.8" fill="url(#gY)"/><circle cx="14.10" cy="316.30" r="3.8" fill="url(#gY)"/><circle cx="23.10" cy="316.30" r="3.8" fill="url(#gL)"/><circle cx="32.10" cy="316.30" r="3.8" fill="url(#gG)"/><circle cx="41.10" cy="316.30" r="3.8" fill="url(#gG)"/><circle cx="50.10" cy="316.30" r="3.8" fill="url(#gG)"/><circle cx="59.10" cy="316.30" r="3.8" fill="url(#gU)"/><circle cx="68.10" cy="316.30" r="3.8" fill="url(#gG)"/><circle cx="77.10" cy="316.30" r="3.8" fill="url(#gY)"/><circle cx="86.10" cy="316.30" r="3.8" fill="url(#gU)"/><circle cx="95.10" cy="316.30" r="3.8" fill="url(#gU)"/><circle cx="104.10" cy="316.30" r="3.8" fill="url(#gT)"/><circle cx="113.10" cy="316.30" r="3.8" fill="url(#gT)"/><circle cx="122.10" cy="316.30" r="3.8" fill="url(#gT)"/><circle cx="131.10" cy="316.30" r="3.8" fill="url(#gG)"/><circle cx="140.10" cy="316.30" r="3.8" fill="url(#gU)"/><circle cx="149.10" cy="316.30" r="3.8" fill="url(#gG)"/><circle cx="158.10" cy="316.30" r="3.8" fill="url(#gY)"/><circle cx="167.10" cy="316.30" r="3.8" fill="url(#gU)"/><circle cx="176.10" cy="316.30" r="3.8" fill="url(#gG)"/><circle cx="185.10" cy="316.30" r="3.8" fill="url(#gY)"/><circle cx="194.10" cy="316.30" r="3.8" fill="url(#gG)"/><circle cx="203.10" cy="316.30" r="3.8" fill="url(#gY)"/><circle cx="14.10" cy="325.25" r="3.8" fill="url(#gL)"/><circle cx="23.10" cy="325.25" r="3.8" fill="url(#gO)"/><circle cx="32.10" cy="325.25" r="3.8" fill="url(#gL)"/><circle cx="41.10" cy="325.25" r="3.8" fill="url(#gG)"/><circle cx="50.10" cy="325.25" r="3.8" fill="url(#gO)"/><circle cx="59.10" cy="325.25" r="3.8" fill="url(#gY)"/><circle cx="68.10" cy="325.25" r="3.8" fill="url(#gO)"/><circle cx="77.10" cy="325.25" r="3.8" fill="url(#gO)"/><circle cx="86.10" cy="325.25" r="3.8" fill="url(#gY)"/><circle cx="95.10" cy="325.25" r="3.8" fill="url(#gG)"/><circle cx="104.10" cy="325.25" r="3.8" fill="url(#gY)"/><circle cx="113.10" cy="325.25" r="3.8" fill="url(#gG)"/><circle cx="122.10" cy="325.25" r="3.8" fill="url(#gY)"/><circle cx="131.10" cy="325.25" r="3.8" fill="url(#gL)"/><circle cx="140.10" cy="325.25" r="3.8" fill="url(#gY)"/><circle cx="149.10" cy="325.25" r="3.8" fill="url(#gG)"/><circle cx="158.10" cy="325.25" r="3.8" fill="url(#gG)"/><circle cx="167.10" cy="325.25" r="3.8" fill="url(#gL)"/><circle cx="176.10" cy="325.25" r="3.8" fill="url(#gG)"/><circle cx="185.10" cy="325.25" r="3.8" fill="url(#gL)"/><circle cx="194.10" cy="325.25" r="3.8" fill="url(#gG)"/><circle cx="203.10" cy="325.25" r="3.8" fill="url(#gG)"/><circle cx="14.10" cy="334.20" r="3.8" fill="url(#gG)"/><circle cx="23.10" cy="334.20" r="3.8" fill="url(#gG)"/><circle cx="32.10" cy="334.20" r="3.8" fill="url(#gG)"/><circle cx="41.10" cy="334.20" r="3.8" fill="url(#gU)"/><circle cx="50.10" cy="334.20" r="3.8" fill="url(#gT)"/><circle cx="59.10" cy="334.20" r="3.8" fill="url(#gG)"/><circle cx="68.10" cy="334.20" r="3.8" fill="url(#gT)"/><circle cx="77.10" cy="334.20" r="3.8" fill="url(#gY)"/><circle cx="86.10" cy="334.20" r="3.8" fill="url(#gG)"/><circle cx="95.10" cy="334.20" r="3.8" fill="url(#gL)"/><circle cx="104.10" cy="334.20" r="3.8" fill="url(#gY)"/><circle cx="113.10" cy="334.20" r="3.8" fill="url(#gY)"/><circle cx="122.10" cy="334.20" r="3.8" fill="url(#gY)"/><circle cx="131.10" cy="334.20" r="3.8" fill="url(#gY)"/><circle cx="140.10" cy="334.20" r="3.8" fill="url(#gG)"/><circle cx="149.10" cy="334.20" r="3.8" fill="url(#gU)"/><circle cx="158.10" cy="334.20" r="3.8" fill="url(#gG)"/><circle cx="167.10" cy="334.20" r="3.8" fill="url(#gG)"/><circle cx="176.10" cy="334.20" r="3.8" fill="url(#gL)"/><circle cx="185.10" cy="334.20" r="3.8" fill="url(#gG)"/><circle cx="194.10" cy="334.20" r="3.8" fill="url(#gO)"/><circle cx="203.10" cy="334.20" r="3.8" fill="url(#gO)"/><circle cx="14.10" cy="343.15" r="3.8" fill="url(#gG)"/><circle cx="23.10" cy="343.15" r="3.8" fill="url(#gO)"/><circle cx="32.10" cy="343.15" r="3.8" fill="url(#gG)"/><circle cx="41.10" cy="343.15" r="3.8" fill="url(#gO)"/><circle cx="50.10" cy="343.15" r="3.8" fill="url(#gG)"/><circle cx="59.10" cy="343.15" r="3.8" fill="url(#gG)"/><circle cx="68.10" cy="343.15" r="3.8" fill="url(#gT)"/><circle cx="77.10" cy="343.15" r="3.8" fill="url(#gG)"/><circle cx="86.10" cy="343.15" r="3.8" fill="url(#gG)"/><circle cx="95.10" cy="343.15" r="3.8" fill="url(#gY)"/><circle cx="104.10" cy="343.15" r="3.8" fill="url(#gO)"/><circle cx="113.10" cy="343.15" r="3.8" fill="url(#gY)"/><circle cx="122.10" cy="343.15" r="3.8" fill="url(#gY)"/><circle cx="131.10" cy="343.15" r="3.8" fill="url(#gO)"/><circle cx="140.10" cy="343.15" r="3.8" fill="url(#gG)"/><circle cx="149.10" cy="343.15" r="3.8" fill="url(#gG)"/><circle cx="158.10" cy="343.15" r="3.8" fill="url(#gY)"/><circle cx="167.10" cy="343.15" r="3.8" fill="url(#gY)"/><circle cx="176.10" cy="343.15" r="3.8" fill="url(#gG)"/><circle cx="185.10" cy="343.15" r="3.8" fill="url(#gO)"/><circle cx="194.10" cy="343.15" r="3.8" fill="url(#gG)"/><circle cx="203.10" cy="343.15" r="3.8" fill="url(#gL)"/><circle cx="108.60" cy="267.07" r="3.4" fill="url(#gD)"/><circle cx="218.50" cy="191.00" r="3.8" fill="url(#gO)"/><circle cx="227.50" cy="191.00" r="3.8" fill="url(#gO)"/><circle cx="236.50" cy="191.00" r="3.8" fill="url(#gO)"/><circle cx="245.50" cy="191.00" r="3.8" fill="url(#gO)"/><circle cx="254.50" cy="191.00" r="3.8" fill="url(#gO)"/><circle cx="263.50" cy="191.00" r="3.8" fill="url(#gO)"/><circle cx="272.50" cy="191.00" r="3.8" fill="url(#gO)"/><circle cx="281.50" cy="191.00" r="3.8" fill="url(#gO)"/><circle cx="290.50" cy="191.00" r="3.8" fill="url(#gO)"/><circle cx="299.50" cy="191.00" r="3.8" fill="url(#gO)"/><circle cx="308.50" cy="191.00" r="3.8" fill="url(#gY)"/><circle cx="317.50" cy="191.00" r="3.8" fill="url(#gL)"/><circle cx="326.50" cy="191.00" r="3.8" fill="url(#gG)"/><circle cx="335.50" cy="191.00" r="3.8" fill="url(#gU)"/><circle cx="344.50" cy="191.00" r="3.8" fill="url(#gY)"/><circle cx="353.50" cy="191.00" r="3.8" fill="url(#gY)"/><circle cx="362.50" cy="191.00" r="3.8" fill="url(#gY)"/><circle cx="371.50" cy="191.00" r="3.8" fill="url(#gG)"/><circle cx="380.50" cy="191.00" r="3.8" fill="url(#gG)"/><circle cx="389.50" cy="191.00" r="3.8" fill="url(#gG)"/><circle cx="398.50" cy="191.00" r="3.8" fill="url(#gG)"/><circle cx="407.50" cy="191.00" r="3.8" fill="url(#gG)"/><circle cx="218.50" cy="199.95" r="3.8" fill="url(#gU)"/><circle cx="227.50" cy="199.95" r="3.8" fill="url(#gG)"/><circle cx="236.50" cy="199.95" r="3.8" fill="url(#gT)"/><circle cx="245.50" cy="199.95" r="3.8" fill="url(#gG)"/><circle cx="254.50" cy="199.95" r="3.8" fill="url(#gG)"/><circle cx="263.50" cy="199.95" r="3.8" fill="url(#gY)"/><circle cx="272.50" cy="199.95" r="3.8" fill="url(#gG)"/><circle cx="281.50" cy="199.95" r="3.8" fill="url(#gY)"/><circle cx="290.50" cy="199.95" r="3.8" fill="url(#gG)"/><circle cx="299.50" cy="199.95" r="3.8" fill="url(#gY)"/><circle cx="308.50" cy="199.95" r="3.8" fill="url(#gY)"/><circle cx="317.50" cy="199.95" r="3.8" fill="url(#gO)"/><circle cx="326.50" cy="199.95" r="3.8" fill="url(#gO)"/><circle cx="335.50" cy="199.95" r="3.8" fill="url(#gY)"/><circle cx="344.50" cy="199.95" r="3.8" fill="url(#gY)"/><circle cx="353.50" cy="199.95" r="3.8" fill="url(#gY)"/><circle cx="362.50" cy="199.95" r="3.8" fill="url(#gY)"/><circle cx="371.50" cy="199.95" r="3.8" fill="url(#gL)"/><circle cx="380.50" cy="199.95" r="3.8" fill="url(#gG)"/><circle cx="389.50" cy="199.95" r="3.8" fill="url(#gG)"/><circle cx="398.50" cy="199.95" r="3.8" fill="url(#gG)"/><circle cx="407.50" cy="199.95" r="3.8" fill="url(#gG)"/><circle cx="218.50" cy="208.90" r="3.8" fill="url(#gO)"/><circle cx="227.50" cy="208.90" r="3.8" fill="url(#gY)"/><circle cx="236.50" cy="208.90" r="3.8" fill="url(#gL)"/><circle cx="245.50" cy="208.90" r="3.8" fill="url(#gY)"/><circle cx="254.50" cy="208.90" r="3.8" fill="url(#gL)"/><circle cx="263.50" cy="208.90" r="3.8" fill="url(#gG)"/><circle cx="272.50" cy="208.90" r="3.8" fill="url(#gT)"/><circle cx="281.50" cy="208.90" r="3.8" fill="url(#gU)"/><circle cx="290.50" cy="208.90" r="3.8" fill="url(#gG)"/><circle cx="299.50" cy="208.90" r="3.8" fill="url(#gU)"/><circle cx="308.50" cy="208.90" r="3.8" fill="url(#gT)"/><circle cx="317.50" cy="208.90" r="3.8" fill="url(#gG)"/><circle cx="326.50" cy="208.90" r="3.8" fill="url(#gG)"/><circle cx="335.50" cy="208.90" r="3.8" fill="url(#gY)"/><circle cx="344.50" cy="208.90" r="3.8" fill="url(#gG)"/><circle cx="353.50" cy="208.90" r="3.8" fill="url(#gY)"/><circle cx="362.50" cy="208.90" r="3.8" fill="url(#gY)"/><circle cx="371.50" cy="208.90" r="3.8" fill="url(#gY)"/><circle cx="380.50" cy="208.90" r="3.8" fill="url(#gL)"/><circle cx="389.50" cy="208.90" r="3.8" fill="url(#gL)"/><circle cx="398.50" cy="208.90" r="3.8" fill="url(#gL)"/><circle cx="407.50" cy="208.90" r="3.8" fill="url(#gL)"/><circle cx="218.50" cy="217.85" r="3.8" fill="url(#gG)"/><circle cx="227.50" cy="217.85" r="3.8" fill="url(#gU)"/><circle cx="236.50" cy="217.85" r="3.8" fill="url(#gT)"/><circle cx="245.50" cy="217.85" r="3.8" fill="url(#gT)"/><circle cx="254.50" cy="217.85" r="3.8" fill="url(#gG)"/><circle cx="263.50" cy="217.85" r="3.8" fill="url(#gO)"/><circle cx="272.50" cy="217.85" r="3.8" fill="url(#gG)"/><circle cx="281.50" cy="217.85" r="3.8" fill="url(#gT)"/><circle cx="290.50" cy="217.85" r="3.8" fill="url(#gC)"/><circle cx="299.50" cy="217.85" r="3.8" fill="url(#gC)"/><circle cx="308.50" cy="217.85" r="3.8" fill="url(#gT)"/><circle cx="317.50" cy="217.85" r="3.8" fill="url(#gT)"/><circle cx="326.50" cy="217.85" r="3.8" fill="url(#gT)"/><circle cx="335.50" cy="217.85" r="3.8" fill="url(#gU)"/><circle cx="344.50" cy="217.85" r="3.8" fill="url(#gY)"/><circle cx="353.50" cy="217.85" r="3.8" fill="url(#gO)"/><circle cx="362.50" cy="217.85" r="3.8" fill="url(#gY)"/><circle cx="371.50" cy="217.85" r="3.8" fill="url(#gG)"/><circle cx="380.50" cy="217.85" r="3.8" fill="url(#gG)"/><circle cx="389.50" cy="217.85" r="3.8" fill="url(#gG)"/><circle cx="398.50" cy="217.85" r="3.8" fill="url(#gG)"/><circle cx="407.50" cy="217.85" r="3.8" fill="url(#gL)"/><circle cx="218.50" cy="226.80" r="3.8" fill="url(#gO)"/><circle cx="227.50" cy="226.80" r="3.8" fill="url(#gG)"/><circle cx="236.50" cy="226.80" r="3.8" fill="url(#gL)"/><circle cx="245.50" cy="226.80" r="3.8" fill="url(#gO)"/><circle cx="254.50" cy="226.80" r="3.8" fill="url(#gP)"/><circle cx="263.50" cy="226.80" r="3.8" fill="url(#gG)"/><circle cx="272.50" cy="226.80" r="3.8" fill="url(#gT)"/><circle cx="281.50" cy="226.80" r="3.8" fill="url(#gU)"/><circle cx="290.50" cy="226.80" r="3.8" fill="url(#gP)"/><circle cx="299.50" cy="226.80" r="3.8" fill="url(#gO)"/><circle cx="308.50" cy="226.80" r="3.8" fill="url(#gP)"/><circle cx="317.50" cy="226.80" r="3.8" fill="url(#gR)"/><circle cx="326.50" cy="226.80" r="3.8" fill="url(#gY)"/><circle cx="335.50" cy="226.80" r="3.8" fill="url(#gT)"/><circle cx="344.50" cy="226.80" r="3.8" fill="url(#gT)"/><circle cx="353.50" cy="226.80" r="3.8" fill="url(#gY)"/><circle cx="362.50" cy="226.80" r="3.8" fill="url(#gY)"/><circle cx="371.50" cy="226.80" r="3.8" fill="url(#gY)"/><circle cx="380.50" cy="226.80" r="3.8" fill="url(#gG)"/><circle cx="389.50" cy="226.80" r="3.8" fill="url(#gG)"/><circle cx="398.50" cy="226.80" r="3.8" fill="url(#gG)"/><circle cx="407.50" cy="226.80" r="3.8" fill="url(#gG)"/><circle cx="218.50" cy="235.75" r="3.8" fill="url(#gO)"/><circle cx="227.50" cy="235.75" r="3.8" fill="url(#gT)"/><circle cx="236.50" cy="235.75" r="3.8" fill="url(#gO)"/><circle cx="245.50" cy="235.75" r="3.8" fill="url(#gP)"/><circle cx="254.50" cy="235.75" r="3.8" fill="url(#gU)"/><circle cx="263.50" cy="235.75" r="3.8" fill="url(#gT)"/><circle cx="272.50" cy="235.75" r="3.8" fill="url(#gO)"/><circle cx="281.50" cy="235.75" r="3.8" fill="url(#gP)"/><circle cx="290.50" cy="235.75" r="3.8" fill="url(#gR)"/><circle cx="299.50" cy="235.75" r="3.8" fill="url(#gG)"/><circle cx="308.50" cy="235.75" r="3.8" fill="url(#gO)"/><circle cx="317.50" cy="235.75" r="3.8" fill="url(#gO)"/><circle cx="326.50" cy="235.75" r="3.8" fill="url(#gP)"/><circle cx="335.50" cy="235.75" r="3.8" fill="url(#gO)"/><circle cx="344.50" cy="235.75" r="3.8" fill="url(#gT)"/><circle cx="353.50" cy="235.75" r="3.8" fill="url(#gT)"/><circle cx="362.50" cy="235.75" r="3.8" fill="url(#gO)"/><circle cx="371.50" cy="235.75" r="3.8" fill="url(#gO)"/><circle cx="380.50" cy="235.75" r="3.8" fill="url(#gY)"/><circle cx="389.50" cy="235.75" r="3.8" fill="url(#gG)"/><circle cx="398.50" cy="235.75" r="3.8" fill="url(#gG)"/><circle cx="407.50" cy="235.75" r="3.8" fill="url(#gG)"/><circle cx="218.50" cy="244.70" r="3.8" fill="url(#gU)"/><circle cx="227.50" cy="244.70" r="3.8" fill="url(#gG)"/><circle cx="236.50" cy="244.70" r="3.8" fill="url(#gP)"/><circle cx="245.50" cy="244.70" r="3.8" fill="url(#gU)"/><circle cx="254.50" cy="244.70" r="3.8" fill="url(#gC)"/><circle cx="263.50" cy="244.70" r="3.8" fill="url(#gP)"/><circle cx="272.50" cy="244.70" r="3.8" fill="url(#gP)"/><circle cx="281.50" cy="244.70" r="3.8" fill="url(#gO)"/><circle cx="290.50" cy="244.70" r="3.8" fill="url(#gP)"/><circle cx="299.50" cy="244.70" r="3.8" fill="url(#gR)"/><circle cx="308.50" cy="244.70" r="3.8" fill="url(#gP)"/><circle cx="317.50" cy="244.70" r="3.8" fill="url(#gP)"/><circle cx="326.50" cy="244.70" r="3.8" fill="url(#gO)"/><circle cx="335.50" cy="244.70" r="3.8" fill="url(#gO)"/><circle cx="344.50" cy="244.70" r="3.8" fill="url(#gY)"/><circle cx="353.50" cy="244.70" r="3.8" fill="url(#gT)"/><circle cx="362.50" cy="244.70" r="3.8" fill="url(#gG)"/><circle cx="371.50" cy="244.70" r="3.8" fill="url(#gO)"/><circle cx="380.50" cy="244.70" r="3.8" fill="url(#gY)"/><circle cx="389.50" cy="244.70" r="3.8" fill="url(#gG)"/><circle cx="398.50" cy="244.70" r="3.8" fill="url(#gG)"/><circle cx="407.50" cy="244.70" r="3.8" fill="url(#gG)"/><circle cx="218.50" cy="253.65" r="3.8" fill="url(#gU)"/><circle cx="227.50" cy="253.65" r="3.8" fill="url(#gP)"/><circle cx="236.50" cy="253.65" r="3.8" fill="url(#gP)"/><circle cx="245.50" cy="253.65" r="3.8" fill="url(#gU)"/><circle cx="254.50" cy="253.65" r="3.8" fill="url(#gO)"/><circle cx="263.50" cy="253.65" r="3.8" fill="url(#gR)"/><circle cx="272.50" cy="253.65" r="3.8" fill="url(#gT)"/><circle cx="281.50" cy="253.65" r="3.8" fill="url(#gR)"/><circle cx="290.50" cy="253.65" r="3.8" fill="url(#gQ)"/><circle cx="299.50" cy="253.65" r="3.8" fill="url(#gM)"/><circle cx="308.50" cy="253.65" r="3.8" fill="url(#gM)"/><circle cx="317.50" cy="253.65" r="3.8" fill="url(#gQ)"/><circle cx="326.50" cy="253.65" r="3.8" fill="url(#gO)"/><circle cx="335.50" cy="253.65" r="3.8" fill="url(#gO)"/><circle cx="344.50" cy="253.65" r="3.8" fill="url(#gO)"/><circle cx="353.50" cy="253.65" r="3.8" fill="url(#gU)"/><circle cx="362.50" cy="253.65" r="3.8" fill="url(#gT)"/><circle cx="371.50" cy="253.65" r="3.8" fill="url(#gY)"/><circle cx="380.50" cy="253.65" r="3.8" fill="url(#gY)"/><circle cx="389.50" cy="253.65" r="3.8" fill="url(#gG)"/><circle cx="398.50" cy="253.65" r="3.8" fill="url(#gG)"/><circle cx="407.50" cy="253.65" r="3.8" fill="url(#gG)"/><circle cx="218.50" cy="262.60" r="3.8" fill="url(#gU)"/><circle cx="227.50" cy="262.60" r="3.8" fill="url(#gY)"/><circle cx="236.50" cy="262.60" r="3.8" fill="url(#gT)"/><circle cx="245.50" cy="262.60" r="3.8" fill="url(#gT)"/><circle cx="254.50" cy="262.60" r="3.8" fill="url(#gC)"/><circle cx="263.50" cy="262.60" r="3.8" fill="url(#gW)"/><circle cx="272.50" cy="262.60" r="3.8" fill="url(#gV)"/><circle cx="281.50" cy="262.60" r="3.8" fill="url(#gT)"/><circle cx="290.50" cy="262.60" r="3.8" fill="url(#gP)"/><circle cx="299.50" cy="262.60" r="3.8" fill="url(#gD)"/><circle cx="308.50" cy="262.60" r="3.8" fill="url(#gD)"/><circle cx="317.50" cy="262.60" r="3.8" fill="url(#gM)"/><circle cx="326.50" cy="262.60" r="3.8" fill="url(#gR)"/><circle cx="335.50" cy="262.60" r="3.8" fill="url(#gO)"/><circle cx="344.50" cy="262.60" r="3.8" fill="url(#gO)"/><circle cx="353.50" cy="262.60" r="3.8" fill="url(#gG)"/><circle cx="362.50" cy="262.60" r="3.8" fill="url(#gT)"/><circle cx="371.50" cy="262.60" r="3.8" fill="url(#gY)"/><circle cx="380.50" cy="262.60" r="3.8" fill="url(#gY)"/><circle cx="389.50" cy="262.60" r="3.8" fill="url(#gL)"/><circle cx="398.50" cy="262.60" r="3.8" fill="url(#gL)"/><circle cx="407.50" cy="262.60" r="3.8" fill="url(#gL)"/><circle cx="218.50" cy="271.55" r="3.8" fill="url(#gU)"/><circle cx="227.50" cy="271.55" r="3.8" fill="url(#gY)"/><circle cx="236.50" cy="271.55" r="3.8" fill="url(#gT)"/><circle cx="245.50" cy="271.55" r="3.8" fill="url(#gT)"/><circle cx="254.50" cy="271.55" r="3.8" fill="url(#gC)"/><circle cx="263.50" cy="271.55" r="3.8" fill="url(#gW)"/><circle cx="272.50" cy="271.55" r="3.8" fill="url(#gV)"/><circle cx="281.50" cy="271.55" r="3.8" fill="url(#gT)"/><circle cx="290.50" cy="271.55" r="3.8" fill="url(#gP)"/><circle cx="299.50" cy="271.55" r="3.8" fill="url(#gD)"/><circle cx="308.50" cy="271.55" r="3.8" fill="url(#gD)"/><circle cx="317.50" cy="271.55" r="3.8" fill="url(#gM)"/><circle cx="326.50" cy="271.55" r="3.8" fill="url(#gR)"/><circle cx="335.50" cy="271.55" r="3.8" fill="url(#gO)"/><circle cx="344.50" cy="271.55" r="3.8" fill="url(#gO)"/><circle cx="353.50" cy="271.55" r="3.8" fill="url(#gG)"/><circle cx="362.50" cy="271.55" r="3.8" fill="url(#gT)"/><circle cx="371.50" cy="271.55" r="3.8" fill="url(#gY)"/><circle cx="380.50" cy="271.55" r="3.8" fill="url(#gY)"/><circle cx="389.50" cy="271.55" r="3.8" fill="url(#gL)"/><circle cx="398.50" cy="271.55" r="3.8" fill="url(#gL)"/><circle cx="407.50" cy="271.55" r="3.8" fill="url(#gL)"/><circle cx="218.50" cy="280.50" r="3.8" fill="url(#gU)"/><circle cx="227.50" cy="280.50" r="3.8" fill="url(#gP)"/><circle cx="236.50" cy="280.50" r="3.8" fill="url(#gP)"/><circle cx="245.50" cy="280.50" r="3.8" fill="url(#gU)"/><circle cx="254.50" cy="280.50" r="3.8" fill="url(#gO)"/><circle cx="263.50" cy="280.50" r="3.8" fill="url(#gR)"/><circle cx="272.50" cy="280.50" r="3.8" fill="url(#gT)"/><circle cx="281.50" cy="280.50" r="3.8" fill="url(#gR)"/><circle cx="290.50" cy="280.50" r="3.8" fill="url(#gQ)"/><circle cx="299.50" cy="280.50" r="3.8" fill="url(#gM)"/><circle cx="308.50" cy="280.50" r="3.8" fill="url(#gM)"/><circle cx="317.50" cy="280.50" r="3.8" fill="url(#gQ)"/><circle cx="326.50" cy="280.50" r="3.8" fill="url(#gO)"/><circle cx="335.50" cy="280.50" r="3.8" fill="url(#gO)"/><circle cx="344.50" cy="280.50" r="3.8" fill="url(#gO)"/><circle cx="353.50" cy="280.50" r="3.8" fill="url(#gU)"/><circle cx="362.50" cy="280.50" r="3.8" fill="url(#gT)"/><circle cx="371.50" cy="280.50" r="3.8" fill="url(#gY)"/><circle cx="380.50" cy="280.50" r="3.8" fill="url(#gY)"/><circle cx="389.50" cy="280.50" r="3.8" fill="url(#gG)"/><circle cx="398.50" cy="280.50" r="3.8" fill="url(#gG)"/><circle cx="407.50" cy="280.50" r="3.8" fill="url(#gG)"/><circle cx="218.50" cy="289.45" r="3.8" fill="url(#gU)"/><circle cx="227.50" cy="289.45" r="3.8" fill="url(#gG)"/><circle cx="236.50" cy="289.45" r="3.8" fill="url(#gP)"/><circle cx="245.50" cy="289.45" r="3.8" fill="url(#gU)"/><circle cx="254.50" cy="289.45" r="3.8" fill="url(#gC)"/><circle cx="263.50" cy="289.45" r="3.8" fill="url(#gP)"/><circle cx="272.50" cy="289.45" r="3.8" fill="url(#gP)"/><circle cx="281.50" cy="289.45" r="3.8" fill="url(#gO)"/><circle cx="290.50" cy="289.45" r="3.8" fill="url(#gP)"/><circle cx="299.50" cy="289.45" r="3.8" fill="url(#gR)"/><circle cx="308.50" cy="289.45" r="3.8" fill="url(#gP)"/><circle cx="317.50" cy="289.45" r="3.8" fill="url(#gP)"/><circle cx="326.50" cy="289.45" r="3.8" fill="url(#gO)"/><circle cx="335.50" cy="289.45" r="3.8" fill="url(#gO)"/><circle cx="344.50" cy="289.45" r="3.8" fill="url(#gY)"/><circle cx="353.50" cy="289.45" r="3.8" fill="url(#gT)"/><circle cx="362.50" cy="289.45" r="3.8" fill="url(#gG)"/><circle cx="371.50" cy="289.45" r="3.8" fill="url(#gO)"/><circle cx="380.50" cy="289.45" r="3.8" fill="url(#gY)"/><circle cx="389.50" cy="289.45" r="3.8" fill="url(#gG)"/><circle cx="398.50" cy="289.45" r="3.8" fill="url(#gG)"/><circle cx="407.50" cy="289.45" r="3.8" fill="url(#gG)"/><circle cx="218.50" cy="298.40" r="3.8" fill="url(#gO)"/><circle cx="227.50" cy="298.40" r="3.8" fill="url(#gT)"/><circle cx="236.50" cy="298.40" r="3.8" fill="url(#gO)"/><circle cx="245.50" cy="298.40" r="3.8" fill="url(#gP)"/><circle cx="254.50" cy="298.40" r="3.8" fill="url(#gU)"/><circle cx="263.50" cy="298.40" r="3.8" fill="url(#gT)"/><circle cx="272.50" cy="298.40" r="3.8" fill="url(#gO)"/><circle cx="281.50" cy="298.40" r="3.8" fill="url(#gP)"/><circle cx="290.50" cy="298.40" r="3.8" fill="url(#gR)"/><circle cx="299.50" cy="298.40" r="3.8" fill="url(#gG)"/><circle cx="308.50" cy="298.40" r="3.8" fill="url(#gO)"/><circle cx="317.50" cy="298.40" r="3.8" fill="url(#gO)"/><circle cx="326.50" cy="298.40" r="3.8" fill="url(#gP)"/><circle cx="335.50" cy="298.40" r="3.8" fill="url(#gO)"/><circle cx="344.50" cy="298.40" r="3.8" fill="url(#gT)"/><circle cx="353.50" cy="298.40" r="3.8" fill="url(#gT)"/><circle cx="362.50" cy="298.40" r="3.8" fill="url(#gO)"/><circle cx="371.50" cy="298.40" r="3.8" fill="url(#gO)"/><circle cx="380.50" cy="298.40" r="3.8" fill="url(#gY)"/><circle cx="389.50" cy="298.40" r="3.8" fill="url(#gG)"/><circle cx="398.50" cy="298.40" r="3.8" fill="url(#gG)"/><circle cx="407.50" cy="298.40" r="3.8" fill="url(#gG)"/><circle cx="218.50" cy="307.35" r="3.8" fill="url(#gO)"/><circle cx="227.50" cy="307.35" r="3.8" fill="url(#gG)"/><circle cx="236.50" cy="307.35" r="3.8" fill="url(#gL)"/><circle cx="245.50" cy="307.35" r="3.8" fill="url(#gO)"/><circle cx="254.50" cy="307.35" r="3.8" fill="url(#gP)"/><circle cx="263.50" cy="307.35" r="3.8" fill="url(#gG)"/><circle cx="272.50" cy="307.35" r="3.8" fill="url(#gT)"/><circle cx="281.50" cy="307.35" r="3.8" fill="url(#gU)"/><circle cx="290.50" cy="307.35" r="3.8" fill="url(#gP)"/><circle cx="299.50" cy="307.35" r="3.8" fill="url(#gO)"/><circle cx="308.50" cy="307.35" r="3.8" fill="url(#gP)"/><circle cx="317.50" cy="307.35" r="3.8" fill="url(#gR)"/><circle cx="326.50" cy="307.35" r="3.8" fill="url(#gY)"/><circle cx="335.50" cy="307.35" r="3.8" fill="url(#gT)"/><circle cx="344.50" cy="307.35" r="3.8" fill="url(#gT)"/><circle cx="353.50" cy="307.35" r="3.8" fill="url(#gY)"/><circle cx="362.50" cy="307.35" r="3.8" fill="url(#gY)"/><circle cx="371.50" cy="307.35" r="3.8" fill="url(#gY)"/><circle cx="380.50" cy="307.35" r="3.8" fill="url(#gG)"/><circle cx="389.50" cy="307.35" r="3.8" fill="url(#gG)"/><circle cx="398.50" cy="307.35" r="3.8" fill="url(#gG)"/><circle cx="407.50" cy="307.35" r="3.8" fill="url(#gG)"/><circle cx="218.50" cy="316.30" r="3.8" fill="url(#gG)"/><circle cx="227.50" cy="316.30" r="3.8" fill="url(#gU)"/><circle cx="236.50" cy="316.30" r="3.8" fill="url(#gT)"/><circle cx="245.50" cy="316.30" r="3.8" fill="url(#gT)"/><circle cx="254.50" cy="316.30" r="3.8" fill="url(#gG)"/><circle cx="263.50" cy="316.30" r="3.8" fill="url(#gO)"/><circle cx="272.50" cy="316.30" r="3.8" fill="url(#gG)"/><circle cx="281.50" cy="316.30" r="3.8" fill="url(#gT)"/><circle cx="290.50" cy="316.30" r="3.8" fill="url(#gC)"/><circle cx="299.50" cy="316.30" r="3.8" fill="url(#gC)"/><circle cx="308.50" cy="316.30" r="3.8" fill="url(#gT)"/><circle cx="317.50" cy="316.30" r="3.8" fill="url(#gT)"/><circle cx="326.50" cy="316.30" r="3.8" fill="url(#gT)"/><circle cx="335.50" cy="316.30" r="3.8" fill="url(#gU)"/><circle cx="344.50" cy="316.30" r="3.8" fill="url(#gY)"/><circle cx="353.50" cy="316.30" r="3.8" fill="url(#gO)"/><circle cx="362.50" cy="316.30" r="3.8" fill="url(#gY)"/><circle cx="371.50" cy="316.30" r="3.8" fill="url(#gG)"/><circle cx="380.50" cy="316.30" r="3.8" fill="url(#gG)"/><circle cx="389.50" cy="316.30" r="3.8" fill="url(#gG)"/><circle cx="398.50" cy="316.30" r="3.8" fill="url(#gG)"/><circle cx="407.50" cy="316.30" r="3.8" fill="url(#gL)"/><circle cx="218.50" cy="325.25" r="3.8" fill="url(#gO)"/><circle cx="227.50" cy="325.25" r="3.8" fill="url(#gY)"/><circle cx="236.50" cy="325.25" r="3.8" fill="url(#gL)"/><circle cx="245.50" cy="325.25" r="3.8" fill="url(#gY)"/><circle cx="254.50" cy="325.25" r="3.8" fill="url(#gL)"/><circle cx="263.50" cy="325.25" r="3.8" fill="url(#gG)"/><circle cx="272.50" cy="325.25" r="3.8" fill="url(#gT)"/><circle cx="281.50" cy="325.25" r="3.8" fill="url(#gU)"/><circle cx="290.50" cy="325.25" r="3.8" fill="url(#gG)"/><circle cx="299.50" cy="325.25" r="3.8" fill="url(#gU)"/><circle cx="308.50" cy="325.25" r="3.8" fill="url(#gT)"/><circle cx="317.50" cy="325.25" r="3.8" fill="url(#gG)"/><circle cx="326.50" cy="325.25" r="3.8" fill="url(#gG)"/><circle cx="335.50" cy="325.25" r="3.8" fill="url(#gY)"/><circle cx="344.50" cy="325.25" r="3.8" fill="url(#gG)"/><circle cx="353.50" cy="325.25" r="3.8" fill="url(#gY)"/><circle cx="362.50" cy="325.25" r="3.8" fill="url(#gY)"/><circle cx="371.50" cy="325.25" r="3.8" fill="url(#gY)"/><circle cx="380.50" cy="325.25" r="3.8" fill="url(#gL)"/><circle cx="389.50" cy="325.25" r="3.8" fill="url(#gL)"/><circle cx="398.50" cy="325.25" r="3.8" fill="url(#gL)"/><circle cx="407.50" cy="325.25" r="3.8" fill="url(#gL)"/><circle cx="218.50" cy="334.20" r="3.8" fill="url(#gU)"/><circle cx="227.50" cy="334.20" r="3.8" fill="url(#gG)"/><circle cx="236.50" cy="334.20" r="3.8" fill="url(#gT)"/><circle cx="245.50" cy="334.20" r="3.8" fill="url(#gG)"/><circle cx="254.50" cy="334.20" r="3.8" fill="url(#gG)"/><circle cx="263.50" cy="334.20" r="3.8" fill="url(#gY)"/><circle cx="272.50" cy="334.20" r="3.8" fill="url(#gG)"/><circle cx="281.50" cy="334.20" r="3.8" fill="url(#gY)"/><circle cx="290.50" cy="334.20" r="3.8" fill="url(#gG)"/><circle cx="299.50" cy="334.20" r="3.8" fill="url(#gY)"/><circle cx="308.50" cy="334.20" r="3.8" fill="url(#gY)"/><circle cx="317.50" cy="334.20" r="3.8" fill="url(#gO)"/><circle cx="326.50" cy="334.20" r="3.8" fill="url(#gO)"/><circle cx="335.50" cy="334.20" r="3.8" fill="url(#gY)"/><circle cx="344.50" cy="334.20" r="3.8" fill="url(#gY)"/><circle cx="353.50" cy="334.20" r="3.8" fill="url(#gY)"/><circle cx="362.50" cy="334.20" r="3.8" fill="url(#gY)"/><circle cx="371.50" cy="334.20" r="3.8" fill="url(#gL)"/><circle cx="380.50" cy="334.20" r="3.8" fill="url(#gG)"/><circle cx="389.50" cy="334.20" r="3.8" fill="url(#gG)"/><circle cx="398.50" cy="334.20" r="3.8" fill="url(#gG)"/><circle cx="407.50" cy="334.20" r="3.8" fill="url(#gG)"/><circle cx="218.50" cy="343.15" r="3.8" fill="url(#gO)"/><circle cx="227.50" cy="343.15" r="3.8" fill="url(#gO)"/><circle cx="236.50" cy="343.15" r="3.8" fill="url(#gO)"/><circle cx="245.50" cy="343.15" r="3.8" fill="url(#gO)"/><circle cx="254.50" cy="343.15" r="3.8" fill="url(#gO)"/><circle cx="263.50" cy="343.15" r="3.8" fill="url(#gO)"/><circle cx="272.50" cy="343.15" r="3.8" fill="url(#gO)"/><circle cx="281.50" cy="343.15" r="3.8" fill="url(#gO)"/><circle cx="290.50" cy="343.15" r="3.8" fill="url(#gO)"/><circle cx="299.50" cy="343.15" r="3.8" fill="url(#gO)"/><circle cx="308.50" cy="343.15" r="3.8" fill="url(#gY)"/><circle cx="317.50" cy="343.15" r="3.8" fill="url(#gL)"/><circle cx="326.50" cy="343.15" r="3.8" fill="url(#gG)"/><circle cx="335.50" cy="343.15" r="3.8" fill="url(#gU)"/><circle cx="344.50" cy="343.15" r="3.8" fill="url(#gY)"/><circle cx="353.50" cy="343.15" r="3.8" fill="url(#gY)"/><circle cx="362.50" cy="343.15" r="3.8" fill="url(#gY)"/><circle cx="371.50" cy="343.15" r="3.8" fill="url(#gG)"/><circle cx="380.50" cy="343.15" r="3.8" fill="url(#gG)"/><circle cx="389.50" cy="343.15" r="3.8" fill="url(#gG)"/><circle cx="398.50" cy="343.15" r="3.8" fill="url(#gG)"/><circle cx="407.50" cy="343.15" r="3.8" fill="url(#gG)"/><circle cx="313.00" cy="267.07" r="3.5" fill="url(#gE)"/></svg>
<div class="box" style="left:9px;top:143.3px;width:88px;height:25.4px"></div><div class="lab" style="left:9px;top:148.2px;width:88px">0 keV</div><div class="box" style="left:214px;top:143.3px;width:88.7px;height:25.4px"></div><div class="lab" style="left:214px;top:148.2px;width:88.7px">365 keV</div><div class="box" style="left:9px;top:321.5px;width:88.7px;height:25.6px"></div><div class="lab" style="left:9px;top:325.6px;width:88.7px">10 keV</div><div class="box" style="left:214px;top:321.5px;width:88.7px;height:25.6px"></div><div class="lab" style="left:214px;top:325.6px;width:88.7px">1 MeV</div>
<div style="position:absolute;left:40px;top:369px;width:35.5px;height:28px;background:linear-gradient(to right,#2a22d8,#2a22d8)"></div><div style="position:absolute;left:75.5px;top:369px;width:62.5px;height:28px;background:linear-gradient(to right,#2a20d4,#4a44f4)"></div><div style="position:absolute;left:138px;top:369px;width:34.599999999999994px;height:28px;background:linear-gradient(to right,#6060fa,#5a8ede 50%,#46ae9e)"></div><div style="position:absolute;left:172.6px;top:369px;width:20.599999999999994px;height:28px;background:linear-gradient(to right,#42c478,#3ee44c)"></div><div style="position:absolute;left:193.2px;top:369px;width:25.400000000000006px;height:28px;background:linear-gradient(to right,#2ef040,#5cf034)"></div><div style="position:absolute;left:218.6px;top:369px;width:24.700000000000017px;height:28px;background:linear-gradient(to right,#9cf03c,#e4f040)"></div><div style="position:absolute;left:243.3px;top:369px;width:20.399999999999977px;height:28px;background:linear-gradient(to right,#fcf83a,#fff034)"></div><div style="position:absolute;left:263.7px;top:369px;width:35.0px;height:28px;background:linear-gradient(to right,#ffd034,#f84a2a)"></div><div style="position:absolute;left:298.7px;top:369px;width:62.10000000000002px;height:28px;background:linear-gradient(to right,#f83034,#f82c5c 45%,#f024c8)"></div><div style="position:absolute;left:360.8px;top:369px;width:36.19999999999999px;height:28px;background:linear-gradient(to right,#f020e0,#f020e0)"></div><div style="position:absolute;left:75.0px;top:369px;width:1px;height:28px;background:rgba(0,0,0,0.55)"></div><div style="position:absolute;left:137.5px;top:369px;width:1px;height:28px;background:rgba(0,0,0,0.55)"></div><div style="position:absolute;left:172.1px;top:369px;width:1px;height:28px;background:rgba(0,0,0,0.55)"></div><div style="position:absolute;left:192.7px;top:369px;width:1px;height:28px;background:rgba(0,0,0,0.55)"></div><div style="position:absolute;left:218.1px;top:369px;width:1px;height:28px;background:rgba(0,0,0,0.55)"></div><div style="position:absolute;left:242.8px;top:369px;width:1px;height:28px;background:rgba(0,0,0,0.55)"></div><div style="position:absolute;left:263.2px;top:369px;width:1px;height:28px;background:rgba(0,0,0,0.55)"></div><div style="position:absolute;left:298.2px;top:369px;width:1px;height:28px;background:rgba(0,0,0,0.55)"></div><div style="position:absolute;left:360.3px;top:369px;width:1px;height:28px;background:rgba(0,0,0,0.55)"></div><div class="tick" style="left:42.5px">-0.1</div><div class="tick" style="left:106px">-0.01</div><div class="tick" style="left:158.3px">-0.0001</div><div class="tick" style="left:188px">0</div><div class="tick" style="left:214.8px">0.0001</div><div class="tick" style="left:269.3px">0.01</div><div class="tick" style="left:333.6px">0.1</div><div class="axl">ionic charge (|e|)</div>
</body></html>
